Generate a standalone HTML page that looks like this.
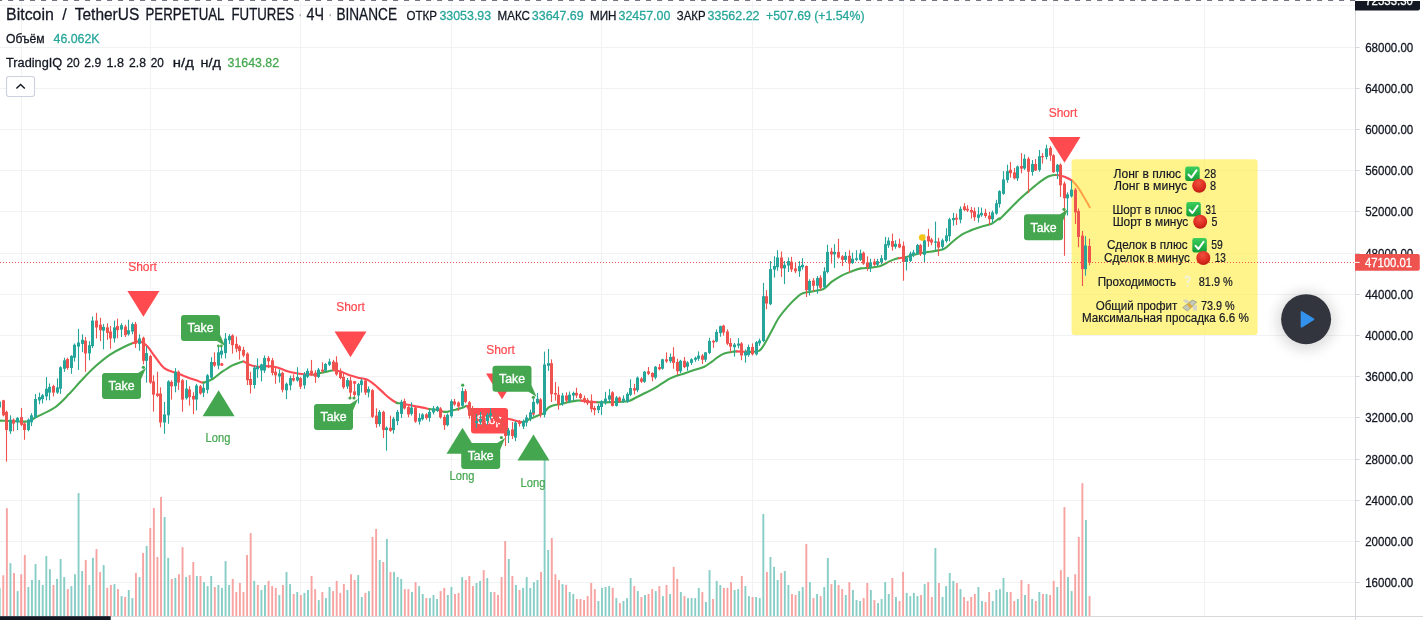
<!DOCTYPE html>
<html lang="ru"><head><meta charset="utf-8"><title>BTCUSDT.P 4h — TradingIQ</title>
<style>
html,body{margin:0;padding:0;background:#fff;}
body{width:1423px;height:620px;overflow:hidden;}
svg{display:block;}
svg text{font-family:"Liberation Sans",sans-serif;}
</style></head><body>
<svg width="1423" height="620" viewBox="0 0 1423 620">
<defs>
<linearGradient id="gc" x1="0" y1="0" x2="0" y2="1"><stop offset="0" stop-color="#3ccf5e"/><stop offset="1" stop-color="#149a35"/></linearGradient>
<radialGradient id="gr" cx="0.45" cy="0.3" r="0.75"><stop offset="0" stop-color="#f0503f"/><stop offset="0.6" stop-color="#dc2c20"/><stop offset="1" stop-color="#b51a10"/></radialGradient>
<filter id="sh" x="-60%" y="-60%" width="220%" height="220%"><feGaussianBlur stdDeviation="7"/></filter>
</defs>
<rect x="0" y="5" width="1355" height="1" fill="#f0f2f3"/>
<rect x="0" y="47" width="1355" height="1" fill="#f0f2f3"/>
<rect x="0" y="88" width="1355" height="1" fill="#f0f2f3"/>
<rect x="0" y="129" width="1355" height="1" fill="#f0f2f3"/>
<rect x="0" y="170" width="1355" height="1" fill="#f0f2f3"/>
<rect x="0" y="211" width="1355" height="1" fill="#f0f2f3"/>
<rect x="0" y="253" width="1355" height="1" fill="#f0f2f3"/>
<rect x="0" y="294" width="1355" height="1" fill="#f0f2f3"/>
<rect x="0" y="335" width="1355" height="1" fill="#f0f2f3"/>
<rect x="0" y="376" width="1355" height="1" fill="#f0f2f3"/>
<rect x="0" y="417" width="1355" height="1" fill="#f0f2f3"/>
<rect x="0" y="459" width="1355" height="1" fill="#f0f2f3"/>
<rect x="0" y="500" width="1355" height="1" fill="#f0f2f3"/>
<rect x="0" y="541" width="1355" height="1" fill="#f0f2f3"/>
<rect x="0" y="582" width="1355" height="1" fill="#f0f2f3"/>
<rect x="21" y="1" width="1" height="615" fill="#f0f2f3"/>
<rect x="150" y="1" width="1" height="615" fill="#f0f2f3"/>
<rect x="300" y="1" width="1" height="615" fill="#f0f2f3"/>
<rect x="451" y="1" width="1" height="615" fill="#f0f2f3"/>
<rect x="601" y="1" width="1" height="615" fill="#f0f2f3"/>
<rect x="752" y="1" width="1" height="615" fill="#f0f2f3"/>
<rect x="903" y="1" width="1" height="615" fill="#f0f2f3"/>
<rect x="1053" y="1" width="1" height="615" fill="#f0f2f3"/>
<rect x="1204" y="1" width="1" height="615" fill="#f0f2f3"/>
<rect x="-1.25" y="587.9" width="1.9" height="28.3" fill="#88cec7"/>
<rect x="2.33" y="575.3" width="1.9" height="40.9" fill="#f6a3a1"/>
<rect x="5.92" y="508.2" width="1.9" height="108.0" fill="#f6a3a1"/>
<rect x="9.50" y="563.1" width="1.9" height="53.1" fill="#88cec7"/>
<rect x="13.09" y="573.0" width="1.9" height="43.2" fill="#f6a3a1"/>
<rect x="16.68" y="591.1" width="1.9" height="25.1" fill="#88cec7"/>
<rect x="20.26" y="574.2" width="1.9" height="42.0" fill="#f6a3a1"/>
<rect x="23.84" y="555.0" width="1.9" height="61.2" fill="#f6a3a1"/>
<rect x="27.43" y="587.0" width="1.9" height="29.2" fill="#88cec7"/>
<rect x="31.02" y="580.0" width="1.9" height="36.2" fill="#88cec7"/>
<rect x="34.60" y="564.0" width="1.9" height="52.2" fill="#88cec7"/>
<rect x="38.19" y="580.0" width="1.9" height="36.2" fill="#88cec7"/>
<rect x="41.77" y="585.0" width="1.9" height="31.2" fill="#88cec7"/>
<rect x="45.35" y="556.1" width="1.9" height="60.1" fill="#88cec7"/>
<rect x="48.94" y="569.2" width="1.9" height="47.0" fill="#88cec7"/>
<rect x="52.52" y="585.0" width="1.9" height="31.2" fill="#f6a3a1"/>
<rect x="56.11" y="578.9" width="1.9" height="37.3" fill="#88cec7"/>
<rect x="59.70" y="559.0" width="1.9" height="57.2" fill="#88cec7"/>
<rect x="63.28" y="577.1" width="1.9" height="39.1" fill="#88cec7"/>
<rect x="66.86" y="589.1" width="1.9" height="27.1" fill="#f6a3a1"/>
<rect x="70.45" y="586.1" width="1.9" height="30.1" fill="#88cec7"/>
<rect x="74.03" y="574.2" width="1.9" height="42.0" fill="#88cec7"/>
<rect x="77.62" y="493.1" width="1.9" height="123.1" fill="#88cec7"/>
<rect x="81.20" y="571.0" width="1.9" height="45.2" fill="#88cec7"/>
<rect x="84.79" y="559.9" width="1.9" height="56.3" fill="#f6a3a1"/>
<rect x="88.38" y="585.0" width="1.9" height="31.2" fill="#88cec7"/>
<rect x="91.96" y="557.9" width="1.9" height="58.3" fill="#88cec7"/>
<rect x="95.55" y="549.1" width="1.9" height="67.1" fill="#f6a3a1"/>
<rect x="99.13" y="572.1" width="1.9" height="44.1" fill="#f6a3a1"/>
<rect x="102.72" y="565.1" width="1.9" height="51.1" fill="#88cec7"/>
<rect x="106.30" y="587.9" width="1.9" height="28.3" fill="#f6a3a1"/>
<rect x="109.89" y="585.0" width="1.9" height="31.2" fill="#f6a3a1"/>
<rect x="113.47" y="584.1" width="1.9" height="32.1" fill="#88cec7"/>
<rect x="117.05" y="589.1" width="1.9" height="27.1" fill="#f6a3a1"/>
<rect x="120.64" y="596.1" width="1.9" height="20.1" fill="#88cec7"/>
<rect x="124.22" y="597.0" width="1.9" height="19.2" fill="#f6a3a1"/>
<rect x="127.81" y="590.0" width="1.9" height="26.2" fill="#88cec7"/>
<rect x="131.40" y="598.1" width="1.9" height="18.1" fill="#88cec7"/>
<rect x="134.98" y="573.0" width="1.9" height="43.2" fill="#f6a3a1"/>
<rect x="138.56" y="577.1" width="1.9" height="39.1" fill="#88cec7"/>
<rect x="142.15" y="552.9" width="1.9" height="63.3" fill="#f6a3a1"/>
<rect x="145.73" y="545.9" width="1.9" height="70.3" fill="#88cec7"/>
<rect x="149.32" y="527.9" width="1.9" height="88.3" fill="#f6a3a1"/>
<rect x="152.91" y="508.0" width="1.9" height="108.2" fill="#f6a3a1"/>
<rect x="156.49" y="557.0" width="1.9" height="59.2" fill="#f6a3a1"/>
<rect x="160.07" y="496.9" width="1.9" height="119.3" fill="#f6a3a1"/>
<rect x="163.66" y="517.0" width="1.9" height="99.2" fill="#88cec7"/>
<rect x="167.25" y="557.9" width="1.9" height="58.3" fill="#88cec7"/>
<rect x="170.83" y="578.9" width="1.9" height="37.3" fill="#f6a3a1"/>
<rect x="174.41" y="578.0" width="1.9" height="38.2" fill="#88cec7"/>
<rect x="178.00" y="574.2" width="1.9" height="42.0" fill="#f6a3a1"/>
<rect x="181.59" y="547.1" width="1.9" height="69.1" fill="#f6a3a1"/>
<rect x="185.17" y="577.1" width="1.9" height="39.1" fill="#88cec7"/>
<rect x="188.75" y="575.1" width="1.9" height="41.1" fill="#f6a3a1"/>
<rect x="192.34" y="562.0" width="1.9" height="54.2" fill="#f6a3a1"/>
<rect x="195.93" y="576.0" width="1.9" height="40.2" fill="#88cec7"/>
<rect x="199.51" y="576.0" width="1.9" height="40.2" fill="#f6a3a1"/>
<rect x="203.09" y="582.1" width="1.9" height="34.1" fill="#88cec7"/>
<rect x="206.68" y="586.1" width="1.9" height="30.1" fill="#88cec7"/>
<rect x="210.26" y="576.0" width="1.9" height="40.2" fill="#88cec7"/>
<rect x="213.85" y="587.0" width="1.9" height="29.2" fill="#f6a3a1"/>
<rect x="217.44" y="585.0" width="1.9" height="31.2" fill="#88cec7"/>
<rect x="221.02" y="587.9" width="1.9" height="28.3" fill="#88cec7"/>
<rect x="224.60" y="561.1" width="1.9" height="55.1" fill="#88cec7"/>
<rect x="228.19" y="585.0" width="1.9" height="31.2" fill="#88cec7"/>
<rect x="231.78" y="578.9" width="1.9" height="37.3" fill="#f6a3a1"/>
<rect x="235.36" y="592.0" width="1.9" height="24.2" fill="#f6a3a1"/>
<rect x="238.94" y="583.0" width="1.9" height="33.2" fill="#f6a3a1"/>
<rect x="242.53" y="592.0" width="1.9" height="24.2" fill="#f6a3a1"/>
<rect x="246.12" y="555.0" width="1.9" height="61.2" fill="#f6a3a1"/>
<rect x="249.70" y="533.1" width="1.9" height="83.1" fill="#f6a3a1"/>
<rect x="253.28" y="580.9" width="1.9" height="35.3" fill="#88cec7"/>
<rect x="256.87" y="585.0" width="1.9" height="31.2" fill="#f6a3a1"/>
<rect x="260.45" y="590.0" width="1.9" height="26.2" fill="#88cec7"/>
<rect x="264.04" y="585.0" width="1.9" height="31.2" fill="#88cec7"/>
<rect x="267.62" y="580.9" width="1.9" height="35.3" fill="#f6a3a1"/>
<rect x="271.21" y="586.1" width="1.9" height="30.1" fill="#f6a3a1"/>
<rect x="274.80" y="587.9" width="1.9" height="28.3" fill="#f6a3a1"/>
<rect x="278.38" y="595.0" width="1.9" height="21.2" fill="#88cec7"/>
<rect x="281.96" y="585.0" width="1.9" height="31.2" fill="#f6a3a1"/>
<rect x="285.55" y="571.9" width="1.9" height="44.3" fill="#88cec7"/>
<rect x="289.13" y="584.1" width="1.9" height="32.1" fill="#88cec7"/>
<rect x="292.72" y="594.0" width="1.9" height="22.2" fill="#f6a3a1"/>
<rect x="296.31" y="592.0" width="1.9" height="24.2" fill="#88cec7"/>
<rect x="299.89" y="595.0" width="1.9" height="21.2" fill="#f6a3a1"/>
<rect x="303.48" y="592.9" width="1.9" height="23.3" fill="#88cec7"/>
<rect x="307.06" y="590.0" width="1.9" height="26.2" fill="#88cec7"/>
<rect x="310.64" y="576.0" width="1.9" height="40.2" fill="#f6a3a1"/>
<rect x="314.23" y="589.1" width="1.9" height="27.1" fill="#f6a3a1"/>
<rect x="317.81" y="600.1" width="1.9" height="16.1" fill="#88cec7"/>
<rect x="321.40" y="592.0" width="1.9" height="24.2" fill="#f6a3a1"/>
<rect x="324.99" y="598.1" width="1.9" height="18.1" fill="#88cec7"/>
<rect x="328.57" y="587.0" width="1.9" height="29.2" fill="#88cec7"/>
<rect x="332.15" y="591.1" width="1.9" height="25.1" fill="#f6a3a1"/>
<rect x="335.74" y="580.9" width="1.9" height="35.3" fill="#f6a3a1"/>
<rect x="339.32" y="592.9" width="1.9" height="23.3" fill="#f6a3a1"/>
<rect x="342.91" y="584.1" width="1.9" height="32.1" fill="#f6a3a1"/>
<rect x="346.50" y="590.0" width="1.9" height="26.2" fill="#88cec7"/>
<rect x="350.08" y="574.2" width="1.9" height="42.0" fill="#f6a3a1"/>
<rect x="353.67" y="580.0" width="1.9" height="36.2" fill="#f6a3a1"/>
<rect x="357.25" y="575.1" width="1.9" height="41.1" fill="#88cec7"/>
<rect x="360.83" y="597.0" width="1.9" height="19.2" fill="#88cec7"/>
<rect x="364.42" y="592.9" width="1.9" height="23.3" fill="#f6a3a1"/>
<rect x="368.00" y="591.1" width="1.9" height="25.1" fill="#88cec7"/>
<rect x="371.59" y="536.9" width="1.9" height="79.3" fill="#f6a3a1"/>
<rect x="375.18" y="529.0" width="1.9" height="87.2" fill="#f6a3a1"/>
<rect x="378.76" y="559.9" width="1.9" height="56.3" fill="#88cec7"/>
<rect x="382.34" y="562.0" width="1.9" height="54.2" fill="#f6a3a1"/>
<rect x="385.93" y="538.9" width="1.9" height="77.3" fill="#88cec7"/>
<rect x="389.51" y="571.9" width="1.9" height="44.3" fill="#f6a3a1"/>
<rect x="393.10" y="571.9" width="1.9" height="44.3" fill="#88cec7"/>
<rect x="396.69" y="577.1" width="1.9" height="39.1" fill="#88cec7"/>
<rect x="400.27" y="578.9" width="1.9" height="37.3" fill="#88cec7"/>
<rect x="403.86" y="589.1" width="1.9" height="27.1" fill="#f6a3a1"/>
<rect x="407.44" y="589.1" width="1.9" height="27.1" fill="#f6a3a1"/>
<rect x="411.02" y="592.0" width="1.9" height="24.2" fill="#88cec7"/>
<rect x="414.61" y="582.1" width="1.9" height="34.1" fill="#f6a3a1"/>
<rect x="418.19" y="586.1" width="1.9" height="30.1" fill="#88cec7"/>
<rect x="421.78" y="594.0" width="1.9" height="22.2" fill="#88cec7"/>
<rect x="425.37" y="598.1" width="1.9" height="18.1" fill="#f6a3a1"/>
<rect x="428.95" y="598.1" width="1.9" height="18.1" fill="#88cec7"/>
<rect x="432.53" y="595.0" width="1.9" height="21.2" fill="#88cec7"/>
<rect x="436.12" y="599.0" width="1.9" height="17.2" fill="#88cec7"/>
<rect x="439.70" y="591.1" width="1.9" height="25.1" fill="#f6a3a1"/>
<rect x="443.29" y="587.9" width="1.9" height="28.3" fill="#f6a3a1"/>
<rect x="446.88" y="595.0" width="1.9" height="21.2" fill="#88cec7"/>
<rect x="450.46" y="587.0" width="1.9" height="29.2" fill="#88cec7"/>
<rect x="454.05" y="594.0" width="1.9" height="22.2" fill="#f6a3a1"/>
<rect x="457.63" y="592.9" width="1.9" height="23.3" fill="#f6a3a1"/>
<rect x="461.21" y="577.1" width="1.9" height="39.1" fill="#88cec7"/>
<rect x="464.80" y="580.0" width="1.9" height="36.2" fill="#f6a3a1"/>
<rect x="468.38" y="576.0" width="1.9" height="40.2" fill="#f6a3a1"/>
<rect x="471.97" y="586.1" width="1.9" height="30.1" fill="#f6a3a1"/>
<rect x="475.56" y="583.0" width="1.9" height="33.2" fill="#88cec7"/>
<rect x="479.14" y="580.9" width="1.9" height="35.3" fill="#88cec7"/>
<rect x="482.73" y="570.1" width="1.9" height="46.1" fill="#f6a3a1"/>
<rect x="486.31" y="578.0" width="1.9" height="38.2" fill="#88cec7"/>
<rect x="489.89" y="592.0" width="1.9" height="24.2" fill="#88cec7"/>
<rect x="493.48" y="592.0" width="1.9" height="24.2" fill="#f6a3a1"/>
<rect x="497.06" y="595.0" width="1.9" height="21.2" fill="#f6a3a1"/>
<rect x="500.65" y="577.1" width="1.9" height="39.1" fill="#f6a3a1"/>
<rect x="504.24" y="541.0" width="1.9" height="75.2" fill="#f6a3a1"/>
<rect x="507.82" y="559.0" width="1.9" height="57.2" fill="#88cec7"/>
<rect x="511.40" y="576.0" width="1.9" height="40.2" fill="#f6a3a1"/>
<rect x="514.99" y="585.0" width="1.9" height="31.2" fill="#88cec7"/>
<rect x="518.58" y="590.0" width="1.9" height="26.2" fill="#f6a3a1"/>
<rect x="522.16" y="587.9" width="1.9" height="28.3" fill="#88cec7"/>
<rect x="525.75" y="577.1" width="1.9" height="39.1" fill="#88cec7"/>
<rect x="529.33" y="587.9" width="1.9" height="28.3" fill="#88cec7"/>
<rect x="532.91" y="582.1" width="1.9" height="34.1" fill="#88cec7"/>
<rect x="536.50" y="580.0" width="1.9" height="36.2" fill="#88cec7"/>
<rect x="540.09" y="571.9" width="1.9" height="44.3" fill="#f6a3a1"/>
<rect x="543.67" y="457.4" width="1.9" height="158.8" fill="#88cec7"/>
<rect x="547.25" y="550.0" width="1.9" height="66.2" fill="#88cec7"/>
<rect x="550.84" y="538.0" width="1.9" height="78.2" fill="#f6a3a1"/>
<rect x="554.42" y="574.2" width="1.9" height="42.0" fill="#f6a3a1"/>
<rect x="558.01" y="580.0" width="1.9" height="36.2" fill="#f6a3a1"/>
<rect x="561.60" y="584.1" width="1.9" height="32.1" fill="#88cec7"/>
<rect x="565.18" y="585.0" width="1.9" height="31.2" fill="#f6a3a1"/>
<rect x="568.76" y="592.0" width="1.9" height="24.2" fill="#88cec7"/>
<rect x="572.35" y="594.0" width="1.9" height="22.2" fill="#88cec7"/>
<rect x="575.93" y="599.0" width="1.9" height="17.2" fill="#f6a3a1"/>
<rect x="579.52" y="599.0" width="1.9" height="17.2" fill="#f6a3a1"/>
<rect x="583.11" y="600.1" width="1.9" height="16.1" fill="#f6a3a1"/>
<rect x="586.69" y="596.1" width="1.9" height="20.1" fill="#f6a3a1"/>
<rect x="590.27" y="583.0" width="1.9" height="33.2" fill="#f6a3a1"/>
<rect x="593.86" y="589.1" width="1.9" height="27.1" fill="#f6a3a1"/>
<rect x="597.45" y="601.0" width="1.9" height="15.2" fill="#88cec7"/>
<rect x="601.03" y="587.9" width="1.9" height="28.3" fill="#88cec7"/>
<rect x="604.62" y="587.0" width="1.9" height="29.2" fill="#88cec7"/>
<rect x="608.20" y="586.1" width="1.9" height="30.1" fill="#88cec7"/>
<rect x="611.78" y="587.9" width="1.9" height="28.3" fill="#f6a3a1"/>
<rect x="615.37" y="598.1" width="1.9" height="18.1" fill="#88cec7"/>
<rect x="618.96" y="603.1" width="1.9" height="13.1" fill="#f6a3a1"/>
<rect x="622.54" y="601.0" width="1.9" height="15.2" fill="#88cec7"/>
<rect x="626.12" y="598.1" width="1.9" height="18.1" fill="#88cec7"/>
<rect x="629.71" y="578.0" width="1.9" height="38.2" fill="#88cec7"/>
<rect x="633.29" y="586.1" width="1.9" height="30.1" fill="#f6a3a1"/>
<rect x="636.88" y="591.1" width="1.9" height="25.1" fill="#88cec7"/>
<rect x="640.47" y="597.0" width="1.9" height="19.2" fill="#f6a3a1"/>
<rect x="644.05" y="595.0" width="1.9" height="21.2" fill="#88cec7"/>
<rect x="647.63" y="594.0" width="1.9" height="22.2" fill="#f6a3a1"/>
<rect x="651.22" y="589.1" width="1.9" height="27.1" fill="#f6a3a1"/>
<rect x="654.80" y="591.1" width="1.9" height="25.1" fill="#88cec7"/>
<rect x="658.39" y="586.1" width="1.9" height="30.1" fill="#f6a3a1"/>
<rect x="661.98" y="596.1" width="1.9" height="20.1" fill="#88cec7"/>
<rect x="665.56" y="585.0" width="1.9" height="31.2" fill="#f6a3a1"/>
<rect x="669.14" y="594.0" width="1.9" height="22.2" fill="#88cec7"/>
<rect x="672.73" y="566.9" width="1.9" height="49.3" fill="#f6a3a1"/>
<rect x="676.31" y="578.9" width="1.9" height="37.3" fill="#f6a3a1"/>
<rect x="679.90" y="592.0" width="1.9" height="24.2" fill="#88cec7"/>
<rect x="683.49" y="596.1" width="1.9" height="20.1" fill="#f6a3a1"/>
<rect x="687.07" y="598.1" width="1.9" height="18.1" fill="#88cec7"/>
<rect x="690.65" y="598.1" width="1.9" height="18.1" fill="#88cec7"/>
<rect x="694.24" y="598.1" width="1.9" height="18.1" fill="#88cec7"/>
<rect x="697.83" y="587.9" width="1.9" height="28.3" fill="#88cec7"/>
<rect x="701.41" y="592.0" width="1.9" height="24.2" fill="#f6a3a1"/>
<rect x="705.00" y="602.0" width="1.9" height="14.2" fill="#88cec7"/>
<rect x="708.58" y="570.1" width="1.9" height="46.1" fill="#88cec7"/>
<rect x="712.16" y="599.0" width="1.9" height="17.2" fill="#f6a3a1"/>
<rect x="715.75" y="580.9" width="1.9" height="35.3" fill="#88cec7"/>
<rect x="719.34" y="585.0" width="1.9" height="31.2" fill="#88cec7"/>
<rect x="722.92" y="587.9" width="1.9" height="28.3" fill="#f6a3a1"/>
<rect x="726.50" y="587.9" width="1.9" height="28.3" fill="#f6a3a1"/>
<rect x="730.09" y="582.1" width="1.9" height="34.1" fill="#f6a3a1"/>
<rect x="733.67" y="590.0" width="1.9" height="26.2" fill="#88cec7"/>
<rect x="737.26" y="589.1" width="1.9" height="27.1" fill="#88cec7"/>
<rect x="740.85" y="576.0" width="1.9" height="40.2" fill="#f6a3a1"/>
<rect x="744.43" y="586.1" width="1.9" height="30.1" fill="#88cec7"/>
<rect x="748.01" y="596.1" width="1.9" height="20.1" fill="#88cec7"/>
<rect x="751.60" y="597.0" width="1.9" height="19.2" fill="#f6a3a1"/>
<rect x="755.18" y="597.0" width="1.9" height="19.2" fill="#88cec7"/>
<rect x="758.77" y="598.1" width="1.9" height="18.1" fill="#88cec7"/>
<rect x="762.36" y="513.9" width="1.9" height="102.3" fill="#88cec7"/>
<rect x="765.94" y="571.9" width="1.9" height="44.3" fill="#f6a3a1"/>
<rect x="769.52" y="557.0" width="1.9" height="59.2" fill="#88cec7"/>
<rect x="773.11" y="566.9" width="1.9" height="49.3" fill="#88cec7"/>
<rect x="776.69" y="580.0" width="1.9" height="36.2" fill="#88cec7"/>
<rect x="780.28" y="573.0" width="1.9" height="43.2" fill="#f6a3a1"/>
<rect x="783.87" y="571.0" width="1.9" height="45.2" fill="#88cec7"/>
<rect x="787.45" y="585.0" width="1.9" height="31.2" fill="#88cec7"/>
<rect x="791.03" y="594.0" width="1.9" height="22.2" fill="#f6a3a1"/>
<rect x="794.62" y="595.0" width="1.9" height="21.2" fill="#f6a3a1"/>
<rect x="798.21" y="591.1" width="1.9" height="25.1" fill="#88cec7"/>
<rect x="801.79" y="587.0" width="1.9" height="29.2" fill="#88cec7"/>
<rect x="805.38" y="543.9" width="1.9" height="72.3" fill="#f6a3a1"/>
<rect x="808.96" y="582.1" width="1.9" height="34.1" fill="#88cec7"/>
<rect x="812.54" y="598.1" width="1.9" height="18.1" fill="#f6a3a1"/>
<rect x="816.13" y="594.0" width="1.9" height="22.2" fill="#88cec7"/>
<rect x="819.72" y="596.1" width="1.9" height="20.1" fill="#f6a3a1"/>
<rect x="823.30" y="587.0" width="1.9" height="29.2" fill="#88cec7"/>
<rect x="826.88" y="557.9" width="1.9" height="58.3" fill="#88cec7"/>
<rect x="830.47" y="584.1" width="1.9" height="32.1" fill="#f6a3a1"/>
<rect x="834.05" y="580.0" width="1.9" height="36.2" fill="#88cec7"/>
<rect x="837.64" y="585.0" width="1.9" height="31.2" fill="#f6a3a1"/>
<rect x="841.23" y="589.1" width="1.9" height="27.1" fill="#f6a3a1"/>
<rect x="844.81" y="595.0" width="1.9" height="21.2" fill="#88cec7"/>
<rect x="848.39" y="582.1" width="1.9" height="34.1" fill="#f6a3a1"/>
<rect x="851.98" y="590.0" width="1.9" height="26.2" fill="#88cec7"/>
<rect x="855.56" y="600.1" width="1.9" height="16.1" fill="#88cec7"/>
<rect x="859.15" y="601.0" width="1.9" height="15.2" fill="#88cec7"/>
<rect x="862.74" y="598.1" width="1.9" height="18.1" fill="#f6a3a1"/>
<rect x="866.32" y="583.0" width="1.9" height="33.2" fill="#f6a3a1"/>
<rect x="869.90" y="590.0" width="1.9" height="26.2" fill="#88cec7"/>
<rect x="873.49" y="600.1" width="1.9" height="16.1" fill="#f6a3a1"/>
<rect x="877.08" y="603.1" width="1.9" height="13.1" fill="#88cec7"/>
<rect x="880.66" y="599.0" width="1.9" height="17.2" fill="#88cec7"/>
<rect x="884.25" y="582.1" width="1.9" height="34.1" fill="#88cec7"/>
<rect x="887.83" y="594.0" width="1.9" height="22.2" fill="#88cec7"/>
<rect x="891.41" y="578.0" width="1.9" height="38.2" fill="#f6a3a1"/>
<rect x="895.00" y="597.0" width="1.9" height="19.2" fill="#88cec7"/>
<rect x="898.59" y="601.0" width="1.9" height="15.2" fill="#f6a3a1"/>
<rect x="902.17" y="571.9" width="1.9" height="44.3" fill="#f6a3a1"/>
<rect x="905.75" y="592.9" width="1.9" height="23.3" fill="#88cec7"/>
<rect x="909.34" y="596.1" width="1.9" height="20.1" fill="#88cec7"/>
<rect x="912.92" y="592.9" width="1.9" height="23.3" fill="#88cec7"/>
<rect x="916.51" y="596.1" width="1.9" height="20.1" fill="#88cec7"/>
<rect x="920.10" y="595.0" width="1.9" height="21.2" fill="#f6a3a1"/>
<rect x="923.68" y="584.1" width="1.9" height="32.1" fill="#88cec7"/>
<rect x="927.26" y="582.1" width="1.9" height="34.1" fill="#f6a3a1"/>
<rect x="930.85" y="597.0" width="1.9" height="19.2" fill="#f6a3a1"/>
<rect x="934.43" y="548.0" width="1.9" height="68.2" fill="#88cec7"/>
<rect x="938.02" y="583.0" width="1.9" height="33.2" fill="#f6a3a1"/>
<rect x="941.61" y="597.0" width="1.9" height="19.2" fill="#88cec7"/>
<rect x="945.19" y="586.1" width="1.9" height="30.1" fill="#88cec7"/>
<rect x="948.77" y="573.0" width="1.9" height="43.2" fill="#88cec7"/>
<rect x="952.36" y="580.9" width="1.9" height="35.3" fill="#88cec7"/>
<rect x="955.94" y="583.0" width="1.9" height="33.2" fill="#f6a3a1"/>
<rect x="959.53" y="589.1" width="1.9" height="27.1" fill="#88cec7"/>
<rect x="963.12" y="597.0" width="1.9" height="19.2" fill="#f6a3a1"/>
<rect x="966.70" y="601.0" width="1.9" height="15.2" fill="#f6a3a1"/>
<rect x="970.28" y="597.0" width="1.9" height="19.2" fill="#f6a3a1"/>
<rect x="973.87" y="594.0" width="1.9" height="22.2" fill="#f6a3a1"/>
<rect x="977.46" y="587.0" width="1.9" height="29.2" fill="#88cec7"/>
<rect x="981.04" y="601.0" width="1.9" height="15.2" fill="#88cec7"/>
<rect x="984.62" y="602.0" width="1.9" height="14.2" fill="#f6a3a1"/>
<rect x="988.21" y="592.0" width="1.9" height="24.2" fill="#f6a3a1"/>
<rect x="991.79" y="601.0" width="1.9" height="15.2" fill="#88cec7"/>
<rect x="995.38" y="590.0" width="1.9" height="26.2" fill="#88cec7"/>
<rect x="998.97" y="589.1" width="1.9" height="27.1" fill="#88cec7"/>
<rect x="1002.55" y="578.0" width="1.9" height="38.2" fill="#88cec7"/>
<rect x="1006.13" y="592.0" width="1.9" height="24.2" fill="#88cec7"/>
<rect x="1009.72" y="592.0" width="1.9" height="24.2" fill="#f6a3a1"/>
<rect x="1013.30" y="601.0" width="1.9" height="15.2" fill="#f6a3a1"/>
<rect x="1016.89" y="599.0" width="1.9" height="17.2" fill="#88cec7"/>
<rect x="1020.48" y="580.0" width="1.9" height="36.2" fill="#f6a3a1"/>
<rect x="1024.06" y="595.0" width="1.9" height="21.2" fill="#88cec7"/>
<rect x="1027.64" y="584.1" width="1.9" height="32.1" fill="#f6a3a1"/>
<rect x="1031.23" y="599.0" width="1.9" height="17.2" fill="#88cec7"/>
<rect x="1034.82" y="601.0" width="1.9" height="15.2" fill="#f6a3a1"/>
<rect x="1038.40" y="592.0" width="1.9" height="24.2" fill="#88cec7"/>
<rect x="1041.98" y="594.0" width="1.9" height="22.2" fill="#f6a3a1"/>
<rect x="1045.57" y="594.0" width="1.9" height="22.2" fill="#88cec7"/>
<rect x="1049.15" y="595.0" width="1.9" height="21.2" fill="#f6a3a1"/>
<rect x="1052.74" y="580.9" width="1.9" height="35.3" fill="#f6a3a1"/>
<rect x="1056.33" y="587.0" width="1.9" height="29.2" fill="#88cec7"/>
<rect x="1059.91" y="570.1" width="1.9" height="46.1" fill="#f6a3a1"/>
<rect x="1063.49" y="507.1" width="1.9" height="109.1" fill="#f6a3a1"/>
<rect x="1067.08" y="577.1" width="1.9" height="39.1" fill="#88cec7"/>
<rect x="1070.66" y="591.1" width="1.9" height="25.1" fill="#88cec7"/>
<rect x="1074.25" y="574.2" width="1.9" height="42.0" fill="#f6a3a1"/>
<rect x="1077.84" y="536.9" width="1.9" height="79.3" fill="#f6a3a1"/>
<rect x="1081.42" y="483.2" width="1.9" height="133.0" fill="#f6a3a1"/>
<rect x="1085.00" y="520.0" width="1.9" height="96.2" fill="#88cec7"/>
<rect x="1088.59" y="596.1" width="1.9" height="20.1" fill="#f6a3a1"/>
<rect x="1071.6" y="159.2" width="186" height="175.7" rx="3" fill="#ffec46" fill-opacity="0.62"/>
<path d="M0.0 420.6C4.4 420.8 21.7 422.0 27.4 421.5C33.1 420.9 31.3 419.6 35.6 417.4C40.0 415.1 49.6 411.1 54.8 407.5C60.1 403.8 64.2 399.1 68.5 394.6C72.9 390.1 77.9 384.1 82.3 379.5C86.6 374.9 91.6 369.8 96.0 365.8C100.4 361.9 105.3 357.8 109.7 354.8C114.1 351.9 119.7 349.0 123.4 347.2C127.1 345.3 130.3 344.0 133.0 343.0" fill="none" stroke="#46a84f" stroke-width="2.1" stroke-linejoin="round" stroke-linecap="round"/>
<path d="M133.0 343.0C135.6 342.1 137.7 340.9 140.0 341.5C142.3 342.0 144.9 344.0 147.3 346.3C149.6 348.6 151.8 352.5 154.5 356.0C157.2 359.5 160.7 365.4 164.2 368.1C167.7 370.8 172.4 371.4 176.3 372.9C180.2 374.5 184.9 376.5 188.4 377.7C191.9 379.0 195.7 380.1 198.1 380.9C200.5 381.7 201.1 382.9 203.4 382.6" fill="none" stroke="#fe4a53" stroke-width="2.1" stroke-linejoin="round" stroke-linecap="round"/>
<path d="M203.4 382.6C205.7 382.3 209.6 380.7 212.6 379.0C215.6 377.2 219.2 373.8 222.3 371.7C225.4 369.6 229.2 367.1 231.9 365.6C234.7 364.2 237.3 363.4 239.2 362.7C241.1 362.1 242.0 361.3 243.6 361.5" fill="none" stroke="#46a84f" stroke-width="2.1" stroke-linejoin="round" stroke-linecap="round"/>
<path d="M243.6 361.5C245.1 361.8 246.5 363.6 248.9 364.4C251.3 365.3 255.8 366.6 258.6 366.9C261.3 367.1 263.1 366.1 265.8 366.1C268.5 366.1 272.4 366.2 275.5 366.9C278.6 367.6 282.9 369.7 285.2 370.5C287.5 371.3 287.7 371.5 290.0 372.0C292.3 372.5 296.6 373.3 299.7 373.7C302.8 374.1 307.0 374.3 309.4 374.4C311.7 374.6 312.3 375.0 314.2 374.7" fill="none" stroke="#fe4a53" stroke-width="2.1" stroke-linejoin="round" stroke-linecap="round"/>
<path d="M314.2 374.7C316.1 374.4 319.1 373.3 321.5 372.7C323.8 372.2 326.8 371.7 328.7 371.3C330.6 370.9 331.6 370.3 333.6 370.3" fill="none" stroke="#46a84f" stroke-width="2.1" stroke-linejoin="round" stroke-linecap="round"/>
<path d="M333.6 370.3C335.5 370.4 338.1 370.7 340.8 371.5C343.5 372.4 347.4 374.6 350.5 375.6C353.6 376.7 357.5 377.4 360.2 378.1C362.9 378.7 365.1 378.7 367.4 379.8C369.7 380.8 372.4 383.0 374.7 384.8C377.0 386.7 379.6 389.3 381.9 391.4C384.3 393.5 386.9 396.1 389.2 397.9C391.5 399.7 394.5 401.9 396.5 402.7" fill="none" stroke="#fe4a53" stroke-width="2.1" stroke-linejoin="round" stroke-linecap="round"/>
<path d="M396.5 402.7C398.4 403.6 398.6 403.0 401.3 403.5" fill="none" stroke="#46a84f" stroke-width="2.1" stroke-linejoin="round" stroke-linecap="round"/>
<path d="M401.3 403.5C404.0 404.0 409.9 405.2 413.4 405.9C416.9 406.6 420.6 407.1 423.1 407.6C425.6 408.1 426.8 408.7 429.1 409.0" fill="none" stroke="#fe4a53" stroke-width="2.1" stroke-linejoin="round" stroke-linecap="round"/>
<path d="M429.1 409.0C431.4 409.4 435.3 409.6 437.6 410.0" fill="none" stroke="#46a84f" stroke-width="2.1" stroke-linejoin="round" stroke-linecap="round"/>
<path d="M437.6 410.0C439.9 410.4 442.0 411.4 443.6 411.7" fill="none" stroke="#fe4a53" stroke-width="2.1" stroke-linejoin="round" stroke-linecap="round"/>
<path d="M443.6 411.7C445.3 412.0 445.8 412.1 447.7 411.7C449.6 411.4 453.0 410.3 455.5 409.7C458.0 409.0 461.4 408.2 463.2 407.6C465.1 407.0 465.9 405.1 467.1 406.1" fill="none" stroke="#46a84f" stroke-width="2.1" stroke-linejoin="round" stroke-linecap="round"/>
<path d="M467.1 406.1C468.3 407.0 469.1 411.8 471.0 413.5C472.8 415.3 475.4 416.2 478.7 416.9C482.0 417.6 487.0 417.6 491.6 417.9C496.2 418.2 503.9 418.3 507.6 418.7C511.3 419.1 512.4 420.0 514.8 420.5C517.2 421.1 520.1 422.4 522.6 422.1" fill="none" stroke="#fe4a53" stroke-width="2.1" stroke-linejoin="round" stroke-linecap="round"/>
<path d="M522.6 422.1C525.1 421.8 527.8 419.8 530.3 418.7C532.8 417.6 536.0 416.2 538.1 415.4C540.1 414.5 541.6 414.8 543.2 413.5C544.9 412.3 546.7 408.9 548.4 407.6C550.0 406.3 551.5 405.9 553.5 405.3C555.6 404.7 558.8 404.5 561.3 404.0C563.8 403.5 566.6 402.5 569.0 401.9C571.5 401.4 574.8 400.9 576.8 400.6C578.8 400.4 579.4 400.4 581.4 400.6" fill="none" stroke="#46a84f" stroke-width="2.1" stroke-linejoin="round" stroke-linecap="round"/>
<path d="M581.4 400.6C583.5 400.9 588.3 401.8 589.7 401.9C591.1 402.1 588.8 401.6 590.0 401.7C591.2 401.8 594.0 402.3 597.3 402.3" fill="none" stroke="#fe4a53" stroke-width="2.1" stroke-linejoin="round" stroke-linecap="round"/>
<path d="M597.3 402.3C600.7 402.4 606.1 402.3 611.0 402.1C615.8 402.0 623.7 402.0 627.7 401.3C631.8 400.5 633.4 398.8 636.1 397.5C638.8 396.2 641.8 394.7 644.5 393.3C647.2 392.0 650.2 390.6 652.9 389.1C655.6 387.6 658.6 385.6 661.3 383.9C664.0 382.2 667.3 379.9 669.7 378.6C672.0 377.4 673.6 376.7 676.0 375.9C678.3 375.1 681.3 374.4 684.4 373.4C687.4 372.4 691.7 370.9 694.8 369.8C698.0 368.8 701.6 368.0 704.3 366.7C707.0 365.4 709.4 363.4 711.6 361.9C713.8 360.3 715.9 358.4 717.9 357.0C719.9 355.7 721.9 354.3 724.2 353.5C726.5 352.6 730.6 352.1 732.6 351.8C734.6 351.5 734.8 351.4 736.8 351.4" fill="none" stroke="#46a84f" stroke-width="2.1" stroke-linejoin="round" stroke-linecap="round"/>
<path d="M736.8 351.4C738.8 351.4 743.5 351.8 745.2 351.8C746.8 351.8 746.2 351.6 747.3 351.6" fill="none" stroke="#fe4a53" stroke-width="2.1" stroke-linejoin="round" stroke-linecap="round"/>
<path d="M747.3 351.6C748.4 351.6 750.2 352.0 752.1 351.9C754.0 351.7 757.4 351.8 759.4 350.7C761.3 349.5 762.3 347.7 764.2 344.6C766.1 341.5 769.1 335.6 771.5 331.3C773.8 327.0 776.0 322.1 778.7 318.0C781.4 313.9 785.3 309.4 788.4 305.9C791.5 302.4 795.7 298.3 798.1 296.2C800.5 294.2 801.1 293.8 803.4 293.1C805.7 292.3 809.4 292.0 812.6 291.4C815.8 290.7 820.4 290.5 823.5 289.0C826.6 287.4 829.0 283.8 831.9 281.7C834.8 279.6 838.5 277.3 841.6 275.6C844.7 274.0 848.2 272.7 851.3 271.5C854.4 270.4 857.9 269.0 861.0 268.4C864.1 267.8 867.6 268.1 870.7 267.7C873.8 267.3 877.2 267.0 880.3 266.0C883.4 264.9 887.3 262.3 890.0 261.1C892.7 259.9 895.8 258.9 897.3 258.4C898.7 257.9 897.8 258.3 899.0 258.2" fill="none" stroke="#46a84f" stroke-width="2.1" stroke-linejoin="round" stroke-linecap="round"/>
<path d="M899.0 258.2C900.1 258.0 902.1 258.0 904.5 257.4" fill="none" stroke="#fe4a53" stroke-width="2.1" stroke-linejoin="round" stroke-linecap="round"/>
<path d="M904.5 257.4C907.0 256.9 910.7 255.6 914.2 254.8C917.7 254.0 922.4 253.0 926.3 252.3C930.2 251.7 935.5 251.0 938.4 250.4C941.3 249.8 942.1 250.2 944.4 248.7C946.8 247.3 950.0 243.8 952.9 241.5C955.8 239.1 959.5 236.1 962.6 234.2C965.7 232.3 969.2 231.1 972.3 229.8C975.4 228.6 978.8 227.4 981.9 226.5C985.0 225.5 988.9 225.1 991.6 223.8C994.3 222.5 997.5 219.3 998.9 218.5C1000.2 217.7 998.2 220.5 1000.0 218.9C1001.8 217.3 1007.0 211.9 1010.3 208.5C1013.6 205.2 1017.3 201.3 1020.6 198.2C1023.9 195.1 1027.7 192.0 1031.0 189.2C1034.3 186.4 1038.4 183.0 1041.3 180.9C1044.2 178.9 1046.6 177.2 1049.0 176.3C1051.5 175.3 1054.3 174.9 1056.8 175.0" fill="none" stroke="#46a84f" stroke-width="2.1" stroke-linejoin="round" stroke-linecap="round"/>
<path d="M1056.8 175.0C1059.3 175.1 1062.0 175.9 1064.5 176.8C1067.0 177.8 1070.2 179.4 1072.3 180.9" fill="none" stroke="#fe4a53" stroke-width="2.1" stroke-linejoin="round" stroke-linecap="round"/>
<path d="M1072.3 180.9C1074.3 182.5 1075.6 184.1 1077.4 186.6C1079.3 189.2 1081.9 193.6 1083.9 196.9C1085.9 200.2 1088.9 205.6 1089.8 207.3" fill="none" stroke="#ff9f45" stroke-width="1.9" stroke-linejoin="round" stroke-linecap="round"/>
<rect x="471.0" y="408.0" width="37.0" height="25.5" rx="3" fill="#ff4a50"/>
<text x="489.5" y="424.2" fill="#fff" font-size="12.5" text-anchor="middle" stroke="#fff" stroke-width="0.35">Stop</text>
<line x1="0" x2="1355" y1="262.5" y2="262.5" stroke="#ef5350" stroke-width="1.2" stroke-dasharray="1 2"/>
<rect x="-1.05" y="400.3" width="1.1" height="8.3" fill="#26a69a"/><rect x="-2" y="401.6" width="3" height="5.9" fill="#26a69a"/>
<rect x="2.95" y="399.8" width="1.1" height="16.5" fill="#ef5350"/><rect x="2" y="400.3" width="3" height="15.0" fill="#ef5350"/>
<rect x="5.95" y="410.6" width="1.1" height="51.1" fill="#ef5350"/><rect x="5" y="411.9" width="3" height="18.1" fill="#ef5350"/>
<rect x="9.95" y="415.3" width="1.1" height="18.6" fill="#26a69a"/><rect x="9" y="419.7" width="3" height="11.6" fill="#26a69a"/>
<rect x="12.95" y="418.4" width="1.1" height="12.9" fill="#ef5350"/><rect x="12" y="419.7" width="3" height="3.9" fill="#ef5350"/>
<rect x="16.95" y="417.1" width="1.1" height="12.9" fill="#26a69a"/><rect x="16" y="417.9" width="3" height="4.4" fill="#26a69a"/>
<rect x="20.95" y="408.1" width="1.1" height="18.1" fill="#ef5350"/><rect x="20" y="417.1" width="3" height="7.7" fill="#ef5350"/>
<rect x="23.95" y="422.3" width="1.1" height="17.5" fill="#ef5350"/><rect x="23" y="423.5" width="3" height="6.5" fill="#ef5350"/>
<rect x="27.95" y="418.4" width="1.1" height="12.9" fill="#26a69a"/><rect x="27" y="419.7" width="3" height="10.3" fill="#26a69a"/>
<rect x="30.95" y="413.2" width="1.1" height="12.9" fill="#26a69a"/><rect x="30" y="415.3" width="3" height="7.0" fill="#26a69a"/>
<rect x="34.95" y="393.9" width="1.1" height="24.5" fill="#26a69a"/><rect x="34" y="399.0" width="3" height="18.8" fill="#26a69a"/>
<rect x="38.95" y="392.6" width="1.1" height="11.6" fill="#26a69a"/><rect x="38" y="397.0" width="3" height="3.4" fill="#26a69a"/>
<rect x="41.95" y="393.9" width="1.1" height="9.5" fill="#26a69a"/><rect x="41" y="395.2" width="3" height="3.9" fill="#26a69a"/>
<rect x="45.95" y="377.1" width="1.1" height="23.2" fill="#26a69a"/><rect x="45" y="388.7" width="3" height="7.7" fill="#26a69a"/>
<rect x="48.95" y="383.5" width="1.1" height="16.8" fill="#26a69a"/><rect x="48" y="386.9" width="3" height="5.7" fill="#26a69a"/>
<rect x="52.95" y="384.8" width="1.1" height="11.6" fill="#ef5350"/><rect x="52" y="386.1" width="3" height="6.5" fill="#ef5350"/>
<rect x="56.95" y="378.4" width="1.1" height="15.5" fill="#26a69a"/><rect x="56" y="387.4" width="3" height="5.2" fill="#26a69a"/>
<rect x="59.95" y="366.3" width="1.1" height="27.6" fill="#26a69a"/><rect x="59" y="367.3" width="3" height="21.4" fill="#26a69a"/>
<rect x="63.95" y="357.7" width="1.1" height="14.2" fill="#26a69a"/><rect x="63" y="360.3" width="3" height="8.5" fill="#26a69a"/>
<rect x="66.95" y="357.7" width="1.1" height="12.1" fill="#ef5350"/><rect x="66" y="359.0" width="3" height="9.0" fill="#ef5350"/>
<rect x="70.95" y="355.2" width="1.1" height="18.6" fill="#26a69a"/><rect x="70" y="355.9" width="3" height="12.1" fill="#26a69a"/>
<rect x="73.95" y="343.5" width="1.1" height="18.1" fill="#26a69a"/><rect x="73" y="344.8" width="3" height="12.9" fill="#26a69a"/>
<rect x="77.95" y="328.8" width="1.1" height="41.1" fill="#26a69a"/><rect x="77" y="342.5" width="3" height="4.1" fill="#26a69a"/>
<rect x="81.95" y="334.3" width="1.1" height="17.8" fill="#26a69a"/><rect x="81" y="339.8" width="3" height="4.1" fill="#26a69a"/>
<rect x="84.95" y="337.0" width="1.1" height="34.8" fill="#ef5350"/><rect x="84" y="340.6" width="3" height="12.9" fill="#ef5350"/>
<rect x="88.95" y="341.1" width="1.1" height="19.2" fill="#26a69a"/><rect x="88" y="345.2" width="3" height="8.2" fill="#26a69a"/>
<rect x="91.95" y="316.5" width="1.1" height="31.5" fill="#26a69a"/><rect x="91" y="320.6" width="3" height="25.5" fill="#26a69a"/>
<rect x="95.95" y="312.9" width="1.1" height="25.5" fill="#ef5350"/><rect x="95" y="320.6" width="3" height="6.9" fill="#ef5350"/>
<rect x="99.95" y="317.8" width="1.1" height="23.3" fill="#ef5350"/><rect x="99" y="324.7" width="3" height="5.5" fill="#ef5350"/>
<rect x="102.95" y="324.1" width="1.1" height="25.2" fill="#26a69a"/><rect x="102" y="326.9" width="3" height="3.8" fill="#26a69a"/>
<rect x="106.95" y="323.3" width="1.1" height="16.5" fill="#ef5350"/><rect x="106" y="327.4" width="3" height="5.5" fill="#ef5350"/>
<rect x="109.95" y="326.0" width="1.1" height="22.8" fill="#ef5350"/><rect x="109" y="331.5" width="3" height="6.9" fill="#ef5350"/>
<rect x="113.95" y="320.6" width="1.1" height="21.9" fill="#26a69a"/><rect x="113" y="327.4" width="3" height="11.0" fill="#26a69a"/>
<rect x="116.95" y="318.6" width="1.1" height="19.7" fill="#ef5350"/><rect x="116" y="326.0" width="3" height="4.1" fill="#ef5350"/>
<rect x="120.95" y="323.3" width="1.1" height="13.7" fill="#26a69a"/><rect x="120" y="325.2" width="3" height="4.4" fill="#26a69a"/>
<rect x="124.95" y="324.7" width="1.1" height="12.3" fill="#ef5350"/><rect x="124" y="326.6" width="3" height="8.5" fill="#ef5350"/>
<rect x="127.95" y="319.7" width="1.1" height="15.9" fill="#26a69a"/><rect x="127" y="330.2" width="3" height="4.1" fill="#26a69a"/>
<rect x="131.95" y="322.5" width="1.1" height="11.8" fill="#26a69a"/><rect x="131" y="324.1" width="3" height="7.4" fill="#26a69a"/>
<rect x="134.95" y="321.9" width="1.1" height="26.0" fill="#ef5350"/><rect x="134" y="324.1" width="3" height="19.7" fill="#ef5350"/>
<rect x="138.95" y="334.3" width="1.1" height="16.5" fill="#26a69a"/><rect x="138" y="338.4" width="3" height="5.5" fill="#26a69a"/>
<rect x="142.95" y="336.6" width="1.1" height="27.8" fill="#ef5350"/><rect x="142" y="337.8" width="3" height="23.0" fill="#ef5350"/>
<rect x="145.95" y="346.3" width="1.1" height="36.3" fill="#26a69a"/><rect x="145" y="353.1" width="3" height="7.7" fill="#26a69a"/>
<rect x="149.95" y="354.8" width="1.1" height="29.0" fill="#ef5350"/><rect x="149" y="356.0" width="3" height="26.6" fill="#ef5350"/>
<rect x="152.95" y="375.3" width="1.1" height="36.3" fill="#ef5350"/><rect x="152" y="381.4" width="3" height="13.3" fill="#ef5350"/>
<rect x="156.95" y="371.7" width="1.1" height="25.4" fill="#ef5350"/><rect x="156" y="393.5" width="3" height="2.4" fill="#ef5350"/>
<rect x="159.95" y="387.4" width="1.1" height="39.9" fill="#ef5350"/><rect x="159" y="393.5" width="3" height="29.0" fill="#ef5350"/>
<rect x="163.95" y="401.9" width="1.1" height="31.9" fill="#26a69a"/><rect x="163" y="414.5" width="3" height="8.0" fill="#26a69a"/>
<rect x="167.95" y="380.2" width="1.1" height="43.6" fill="#26a69a"/><rect x="167" y="381.4" width="3" height="33.9" fill="#26a69a"/>
<rect x="170.95" y="380.2" width="1.1" height="19.4" fill="#ef5350"/><rect x="170" y="381.9" width="3" height="4.4" fill="#ef5350"/>
<rect x="174.95" y="368.1" width="1.1" height="24.2" fill="#26a69a"/><rect x="174" y="371.7" width="3" height="14.5" fill="#26a69a"/>
<rect x="177.95" y="370.5" width="1.1" height="19.4" fill="#ef5350"/><rect x="177" y="371.7" width="3" height="10.9" fill="#ef5350"/>
<rect x="181.95" y="379.0" width="1.1" height="32.7" fill="#ef5350"/><rect x="181" y="380.2" width="3" height="19.4" fill="#ef5350"/>
<rect x="185.95" y="380.2" width="1.1" height="19.4" fill="#26a69a"/><rect x="185" y="388.6" width="3" height="9.7" fill="#26a69a"/>
<rect x="188.95" y="386.2" width="1.1" height="19.4" fill="#ef5350"/><rect x="188" y="389.4" width="3" height="7.7" fill="#ef5350"/>
<rect x="192.95" y="392.3" width="1.1" height="21.8" fill="#ef5350"/><rect x="192" y="395.9" width="3" height="3.6" fill="#ef5350"/>
<rect x="195.95" y="383.8" width="1.1" height="26.6" fill="#26a69a"/><rect x="195" y="385.5" width="3" height="14.0" fill="#26a69a"/>
<rect x="199.95" y="385.0" width="1.1" height="9.7" fill="#ef5350"/><rect x="199" y="386.2" width="3" height="7.3" fill="#ef5350"/>
<rect x="202.95" y="383.8" width="1.1" height="13.3" fill="#26a69a"/><rect x="202" y="387.9" width="3" height="4.8" fill="#26a69a"/>
<rect x="206.95" y="374.1" width="1.1" height="19.4" fill="#26a69a"/><rect x="206" y="375.3" width="3" height="14.5" fill="#26a69a"/>
<rect x="210.95" y="357.2" width="1.1" height="21.8" fill="#26a69a"/><rect x="210" y="362.0" width="3" height="15.7" fill="#26a69a"/>
<rect x="213.95" y="352.3" width="1.1" height="14.5" fill="#ef5350"/><rect x="213" y="362.0" width="3" height="3.6" fill="#ef5350"/>
<rect x="217.95" y="346.3" width="1.1" height="23.0" fill="#26a69a"/><rect x="217" y="352.3" width="3" height="13.3" fill="#26a69a"/>
<rect x="220.95" y="345.1" width="1.1" height="13.3" fill="#26a69a"/><rect x="220" y="350.6" width="3" height="4.1" fill="#26a69a"/>
<rect x="224.95" y="333.0" width="1.1" height="25.4" fill="#26a69a"/><rect x="224" y="338.6" width="3" height="14.5" fill="#26a69a"/>
<rect x="228.95" y="334.2" width="1.1" height="9.7" fill="#26a69a"/><rect x="228" y="336.1" width="3" height="4.1" fill="#26a69a"/>
<rect x="231.95" y="334.2" width="1.1" height="19.4" fill="#ef5350"/><rect x="231" y="335.4" width="3" height="9.7" fill="#ef5350"/>
<rect x="235.95" y="336.6" width="1.1" height="15.7" fill="#ef5350"/><rect x="235" y="343.9" width="3" height="4.8" fill="#ef5350"/>
<rect x="238.95" y="345.1" width="1.1" height="14.5" fill="#ef5350"/><rect x="238" y="346.3" width="3" height="4.8" fill="#ef5350"/>
<rect x="242.95" y="346.8" width="1.1" height="10.4" fill="#ef5350"/><rect x="242" y="349.9" width="3" height="5.6" fill="#ef5350"/>
<rect x="246.95" y="352.3" width="1.1" height="32.7" fill="#ef5350"/><rect x="246" y="353.6" width="3" height="26.6" fill="#ef5350"/>
<rect x="249.95" y="371.7" width="1.1" height="21.8" fill="#ef5350"/><rect x="249" y="379.0" width="3" height="6.0" fill="#ef5350"/>
<rect x="253.95" y="365.6" width="1.1" height="23.0" fill="#26a69a"/><rect x="253" y="367.6" width="3" height="17.4" fill="#26a69a"/>
<rect x="256.95" y="358.4" width="1.1" height="19.4" fill="#26a69a"/><rect x="256" y="366.4" width="3" height="2.9" fill="#26a69a"/>
<rect x="260.95" y="363.7" width="1.1" height="17.7" fill="#26a69a"/><rect x="260" y="364.4" width="3" height="6.0" fill="#26a69a"/>
<rect x="263.95" y="355.5" width="1.1" height="17.4" fill="#26a69a"/><rect x="263" y="357.9" width="3" height="12.6" fill="#26a69a"/>
<rect x="267.95" y="356.0" width="1.1" height="12.1" fill="#ef5350"/><rect x="267" y="357.9" width="3" height="3.4" fill="#ef5350"/>
<rect x="271.95" y="357.9" width="1.1" height="17.4" fill="#ef5350"/><rect x="271" y="360.3" width="3" height="12.6" fill="#ef5350"/>
<rect x="274.95" y="368.1" width="1.1" height="15.7" fill="#ef5350"/><rect x="274" y="371.7" width="3" height="3.6" fill="#ef5350"/>
<rect x="278.95" y="369.3" width="1.1" height="13.3" fill="#26a69a"/><rect x="278" y="373.4" width="3" height="3.1" fill="#26a69a"/>
<rect x="281.95" y="371.7" width="1.1" height="20.6" fill="#ef5350"/><rect x="281" y="372.9" width="3" height="16.9" fill="#ef5350"/>
<rect x="285.95" y="382.6" width="1.1" height="16.5" fill="#26a69a"/><rect x="285" y="383.8" width="3" height="6.5" fill="#26a69a"/>
<rect x="289.95" y="375.6" width="1.1" height="14.5" fill="#26a69a"/><rect x="289" y="378.1" width="3" height="7.3" fill="#26a69a"/>
<rect x="292.95" y="374.4" width="1.1" height="7.3" fill="#ef5350"/><rect x="292" y="378.1" width="3" height="2.4" fill="#ef5350"/>
<rect x="296.95" y="367.2" width="1.1" height="14.5" fill="#26a69a"/><rect x="296" y="376.9" width="3" height="3.6" fill="#26a69a"/>
<rect x="299.95" y="376.9" width="1.1" height="12.1" fill="#ef5350"/><rect x="299" y="378.1" width="3" height="8.5" fill="#ef5350"/>
<rect x="303.95" y="372.0" width="1.1" height="16.9" fill="#26a69a"/><rect x="303" y="374.4" width="3" height="10.9" fill="#26a69a"/>
<rect x="306.95" y="368.4" width="1.1" height="9.7" fill="#26a69a"/><rect x="306" y="370.8" width="3" height="6.0" fill="#26a69a"/>
<rect x="310.95" y="359.9" width="1.1" height="15.7" fill="#ef5350"/><rect x="310" y="370.8" width="3" height="3.6" fill="#ef5350"/>
<rect x="314.95" y="370.3" width="1.1" height="12.6" fill="#ef5350"/><rect x="314" y="372.7" width="3" height="4.1" fill="#ef5350"/>
<rect x="317.95" y="367.9" width="1.1" height="10.2" fill="#26a69a"/><rect x="317" y="369.6" width="3" height="7.3" fill="#26a69a"/>
<rect x="321.95" y="362.3" width="1.1" height="10.4" fill="#ef5350"/><rect x="321" y="369.6" width="3" height="1.7" fill="#ef5350"/>
<rect x="324.95" y="363.1" width="1.1" height="9.0" fill="#26a69a"/><rect x="324" y="364.0" width="3" height="6.8" fill="#26a69a"/>
<rect x="328.95" y="358.7" width="1.1" height="7.3" fill="#26a69a"/><rect x="328" y="361.6" width="3" height="3.1" fill="#26a69a"/>
<rect x="332.95" y="359.9" width="1.1" height="10.9" fill="#ef5350"/><rect x="332" y="361.6" width="3" height="8.0" fill="#ef5350"/>
<rect x="335.95" y="356.3" width="1.1" height="19.4" fill="#ef5350"/><rect x="335" y="362.3" width="3" height="12.1" fill="#ef5350"/>
<rect x="339.95" y="368.4" width="1.1" height="10.9" fill="#ef5350"/><rect x="339" y="372.0" width="3" height="6.0" fill="#ef5350"/>
<rect x="342.95" y="372.0" width="1.1" height="16.9" fill="#ef5350"/><rect x="342" y="376.9" width="3" height="10.4" fill="#ef5350"/>
<rect x="346.95" y="378.1" width="1.1" height="10.9" fill="#26a69a"/><rect x="346" y="380.0" width="3" height="6.5" fill="#26a69a"/>
<rect x="349.95" y="376.9" width="1.1" height="20.6" fill="#ef5350"/><rect x="349" y="380.5" width="3" height="12.1" fill="#ef5350"/>
<rect x="353.95" y="381.7" width="1.1" height="15.2" fill="#ef5350"/><rect x="353" y="391.4" width="3" height="3.6" fill="#ef5350"/>
<rect x="357.95" y="382.9" width="1.1" height="20.6" fill="#26a69a"/><rect x="357" y="384.1" width="3" height="11.4" fill="#26a69a"/>
<rect x="360.95" y="378.8" width="1.1" height="13.8" fill="#26a69a"/><rect x="360" y="380.5" width="3" height="4.4" fill="#26a69a"/>
<rect x="364.95" y="379.3" width="1.1" height="15.7" fill="#ef5350"/><rect x="364" y="380.5" width="3" height="12.1" fill="#ef5350"/>
<rect x="367.95" y="386.5" width="1.1" height="10.9" fill="#26a69a"/><rect x="367" y="389.0" width="3" height="3.6" fill="#26a69a"/>
<rect x="371.95" y="389.0" width="1.1" height="29.0" fill="#ef5350"/><rect x="371" y="390.2" width="3" height="26.6" fill="#ef5350"/>
<rect x="375.95" y="408.3" width="1.1" height="19.4" fill="#ef5350"/><rect x="375" y="415.6" width="3" height="8.5" fill="#ef5350"/>
<rect x="378.95" y="410.0" width="1.1" height="16.5" fill="#26a69a"/><rect x="378" y="411.9" width="3" height="12.1" fill="#26a69a"/>
<rect x="382.95" y="410.7" width="1.1" height="27.3" fill="#ef5350"/><rect x="382" y="411.9" width="3" height="18.1" fill="#ef5350"/>
<rect x="385.95" y="426.5" width="1.1" height="24.2" fill="#26a69a"/><rect x="385" y="427.7" width="3" height="2.4" fill="#26a69a"/>
<rect x="389.95" y="415.6" width="1.1" height="16.2" fill="#ef5350"/><rect x="389" y="427.7" width="3" height="3.1" fill="#ef5350"/>
<rect x="392.95" y="416.8" width="1.1" height="16.9" fill="#26a69a"/><rect x="392" y="418.7" width="3" height="11.4" fill="#26a69a"/>
<rect x="396.95" y="410.0" width="1.1" height="15.2" fill="#26a69a"/><rect x="396" y="411.9" width="3" height="9.2" fill="#26a69a"/>
<rect x="400.95" y="399.8" width="1.1" height="18.1" fill="#26a69a"/><rect x="400" y="401.8" width="3" height="12.1" fill="#26a69a"/>
<rect x="403.95" y="398.6" width="1.1" height="10.9" fill="#ef5350"/><rect x="403" y="401.1" width="3" height="7.3" fill="#ef5350"/>
<rect x="407.95" y="405.9" width="1.1" height="11.4" fill="#ef5350"/><rect x="407" y="407.1" width="3" height="7.3" fill="#ef5350"/>
<rect x="410.95" y="402.3" width="1.1" height="13.3" fill="#26a69a"/><rect x="410" y="407.6" width="3" height="6.3" fill="#26a69a"/>
<rect x="414.95" y="405.9" width="1.1" height="16.9" fill="#ef5350"/><rect x="414" y="407.6" width="3" height="14.0" fill="#ef5350"/>
<rect x="418.95" y="413.2" width="1.1" height="11.4" fill="#26a69a"/><rect x="418" y="418.0" width="3" height="3.6" fill="#26a69a"/>
<rect x="421.95" y="413.2" width="1.1" height="7.3" fill="#26a69a"/><rect x="421" y="414.4" width="3" height="4.8" fill="#26a69a"/>
<rect x="425.95" y="413.2" width="1.1" height="6.5" fill="#ef5350"/><rect x="425" y="414.4" width="3" height="3.6" fill="#ef5350"/>
<rect x="428.95" y="409.5" width="1.1" height="12.1" fill="#26a69a"/><rect x="428" y="411.9" width="3" height="6.0" fill="#26a69a"/>
<rect x="432.95" y="405.9" width="1.1" height="8.5" fill="#26a69a"/><rect x="432" y="408.3" width="3" height="4.1" fill="#26a69a"/>
<rect x="436.95" y="405.9" width="1.1" height="6.0" fill="#26a69a"/><rect x="436" y="407.1" width="3" height="3.6" fill="#26a69a"/>
<rect x="439.95" y="407.1" width="1.1" height="11.6" fill="#ef5350"/><rect x="439" y="408.4" width="3" height="9.0" fill="#ef5350"/>
<rect x="443.95" y="414.8" width="1.1" height="15.0" fill="#ef5350"/><rect x="443" y="416.9" width="3" height="8.3" fill="#ef5350"/>
<rect x="446.95" y="413.5" width="1.1" height="12.9" fill="#26a69a"/><rect x="446" y="414.8" width="3" height="10.3" fill="#26a69a"/>
<rect x="450.95" y="399.4" width="1.1" height="18.1" fill="#26a69a"/><rect x="450" y="401.2" width="3" height="15.0" fill="#26a69a"/>
<rect x="453.95" y="398.8" width="1.1" height="7.0" fill="#ef5350"/><rect x="453" y="401.4" width="3" height="3.1" fill="#ef5350"/>
<rect x="457.95" y="401.4" width="1.1" height="9.5" fill="#ef5350"/><rect x="457" y="402.5" width="3" height="4.1" fill="#ef5350"/>
<rect x="461.95" y="387.7" width="1.1" height="19.4" fill="#26a69a"/><rect x="461" y="391.1" width="3" height="14.7" fill="#26a69a"/>
<rect x="464.95" y="389.0" width="1.1" height="14.2" fill="#ef5350"/><rect x="464" y="391.1" width="3" height="10.8" fill="#ef5350"/>
<rect x="468.95" y="401.0" width="1.1" height="17.7" fill="#ef5350"/><rect x="468" y="402.3" width="3" height="13.5" fill="#ef5350"/>
<rect x="471.95" y="406.0" width="1.1" height="18.0" fill="#ef5350"/><rect x="471" y="408.0" width="3" height="14.0" fill="#ef5350"/>
<rect x="475.95" y="413.9" width="1.1" height="13.8" fill="#26a69a"/><rect x="475" y="421.0" width="3" height="2.0" fill="#26a69a"/>
<rect x="479.95" y="411.9" width="1.1" height="12.9" fill="#26a69a"/><rect x="479" y="419.0" width="3" height="2.6" fill="#26a69a"/>
<rect x="482.95" y="413.0" width="1.1" height="17.5" fill="#ef5350"/><rect x="482" y="415.0" width="3" height="13.0" fill="#ef5350"/>
<rect x="486.95" y="412.9" width="1.1" height="11.9" fill="#26a69a"/><rect x="486" y="414.8" width="3" height="6.2" fill="#26a69a"/>
<rect x="489.95" y="408.0" width="1.1" height="11.7" fill="#26a69a"/><rect x="489" y="413.2" width="3" height="2.6" fill="#26a69a"/>
<rect x="493.95" y="410.5" width="1.1" height="10.5" fill="#ef5350"/><rect x="493" y="412.0" width="3" height="7.0" fill="#ef5350"/>
<rect x="496.95" y="413.0" width="1.1" height="11.0" fill="#ef5350"/><rect x="496" y="415.0" width="3" height="7.0" fill="#ef5350"/>
<rect x="500.95" y="418.0" width="1.1" height="15.0" fill="#ef5350"/><rect x="500" y="419.0" width="3" height="12.6" fill="#ef5350"/>
<rect x="504.95" y="425.5" width="1.1" height="20.5" fill="#ef5350"/><rect x="504" y="427.0" width="3" height="9.0" fill="#ef5350"/>
<rect x="507.95" y="428.0" width="1.1" height="15.0" fill="#26a69a"/><rect x="507" y="430.3" width="3" height="5.2" fill="#26a69a"/>
<rect x="511.95" y="422.0" width="1.1" height="17.0" fill="#ef5350"/><rect x="511" y="429.5" width="3" height="6.5" fill="#ef5350"/>
<rect x="514.95" y="421.3" width="1.1" height="19.9" fill="#26a69a"/><rect x="514" y="422.6" width="3" height="15.0" fill="#26a69a"/>
<rect x="518.95" y="420.0" width="1.1" height="6.5" fill="#ef5350"/><rect x="518" y="422.1" width="3" height="1.8" fill="#ef5350"/>
<rect x="522.95" y="419.5" width="1.1" height="9.5" fill="#26a69a"/><rect x="522" y="421.3" width="3" height="5.2" fill="#26a69a"/>
<rect x="525.95" y="414.8" width="1.1" height="11.6" fill="#26a69a"/><rect x="525" y="417.4" width="3" height="5.2" fill="#26a69a"/>
<rect x="529.95" y="409.7" width="1.1" height="11.6" fill="#26a69a"/><rect x="529" y="412.3" width="3" height="6.5" fill="#26a69a"/>
<rect x="532.95" y="396.8" width="1.1" height="19.4" fill="#26a69a"/><rect x="532" y="401.9" width="3" height="11.6" fill="#26a69a"/>
<rect x="536.95" y="392.9" width="1.1" height="11.6" fill="#26a69a"/><rect x="536" y="398.8" width="3" height="4.4" fill="#26a69a"/>
<rect x="539.95" y="398.1" width="1.1" height="19.4" fill="#ef5350"/><rect x="539" y="399.4" width="3" height="15.5" fill="#ef5350"/>
<rect x="543.95" y="351.6" width="1.1" height="65.8" fill="#26a69a"/><rect x="543" y="364.5" width="3" height="50.3" fill="#26a69a"/>
<rect x="547.95" y="349.0" width="1.1" height="21.9" fill="#26a69a"/><rect x="547" y="363.2" width="3" height="2.6" fill="#26a69a"/>
<rect x="550.95" y="359.4" width="1.1" height="42.6" fill="#ef5350"/><rect x="550" y="363.2" width="3" height="31.0" fill="#ef5350"/>
<rect x="554.95" y="382.0" width="1.1" height="18.6" fill="#ef5350"/><rect x="554" y="393.0" width="3" height="1.5" fill="#ef5350"/>
<rect x="557.95" y="386.5" width="1.1" height="23.2" fill="#ef5350"/><rect x="557" y="394.7" width="3" height="9.8" fill="#ef5350"/>
<rect x="561.95" y="392.9" width="1.1" height="12.9" fill="#26a69a"/><rect x="561" y="395.5" width="3" height="8.5" fill="#26a69a"/>
<rect x="565.95" y="392.3" width="1.1" height="10.3" fill="#ef5350"/><rect x="565" y="395.5" width="3" height="5.1" fill="#ef5350"/>
<rect x="568.95" y="391.6" width="1.1" height="11.6" fill="#26a69a"/><rect x="568" y="394.7" width="3" height="6.7" fill="#26a69a"/>
<rect x="572.95" y="391.6" width="1.1" height="9.0" fill="#26a69a"/><rect x="572" y="392.9" width="3" height="2.6" fill="#26a69a"/>
<rect x="575.95" y="387.7" width="1.1" height="10.3" fill="#ef5350"/><rect x="575" y="392.9" width="3" height="2.6" fill="#ef5350"/>
<rect x="579.95" y="392.9" width="1.1" height="6.5" fill="#ef5350"/><rect x="579" y="394.2" width="3" height="3.9" fill="#ef5350"/>
<rect x="583.95" y="395.5" width="1.1" height="7.7" fill="#ef5350"/><rect x="583" y="398.1" width="3" height="3.4" fill="#ef5350"/>
<rect x="586.95" y="398.1" width="1.1" height="7.0" fill="#ef5350"/><rect x="586" y="399.9" width="3" height="3.4" fill="#ef5350"/>
<rect x="590.95" y="394.4" width="1.1" height="17.8" fill="#ef5350"/><rect x="590" y="400.7" width="3" height="8.4" fill="#ef5350"/>
<rect x="593.95" y="405.9" width="1.1" height="9.4" fill="#ef5350"/><rect x="593" y="408.0" width="3" height="2.1" fill="#ef5350"/>
<rect x="597.95" y="403.8" width="1.1" height="9.4" fill="#26a69a"/><rect x="597" y="405.9" width="3" height="4.2" fill="#26a69a"/>
<rect x="600.95" y="400.2" width="1.1" height="14.7" fill="#26a69a"/><rect x="600" y="401.3" width="3" height="5.7" fill="#26a69a"/>
<rect x="604.95" y="391.8" width="1.1" height="13.0" fill="#26a69a"/><rect x="604" y="398.6" width="3" height="3.8" fill="#26a69a"/>
<rect x="608.95" y="389.1" width="1.1" height="13.6" fill="#26a69a"/><rect x="608" y="395.4" width="3" height="4.2" fill="#26a69a"/>
<rect x="611.95" y="391.2" width="1.1" height="15.3" fill="#ef5350"/><rect x="611" y="392.3" width="3" height="13.6" fill="#ef5350"/>
<rect x="615.95" y="396.0" width="1.1" height="10.5" fill="#26a69a"/><rect x="615" y="397.5" width="3" height="8.4" fill="#26a69a"/>
<rect x="618.95" y="396.5" width="1.1" height="6.3" fill="#ef5350"/><rect x="618" y="397.5" width="3" height="4.2" fill="#ef5350"/>
<rect x="622.95" y="395.4" width="1.1" height="7.3" fill="#26a69a"/><rect x="622" y="398.6" width="3" height="3.1" fill="#26a69a"/>
<rect x="626.95" y="392.3" width="1.1" height="10.5" fill="#26a69a"/><rect x="626" y="393.9" width="3" height="7.8" fill="#26a69a"/>
<rect x="629.95" y="379.3" width="1.1" height="16.8" fill="#26a69a"/><rect x="629" y="388.1" width="3" height="6.7" fill="#26a69a"/>
<rect x="633.95" y="383.9" width="1.1" height="10.5" fill="#ef5350"/><rect x="633" y="388.1" width="3" height="2.5" fill="#ef5350"/>
<rect x="636.95" y="376.5" width="1.1" height="15.7" fill="#26a69a"/><rect x="636" y="377.6" width="3" height="12.6" fill="#26a69a"/>
<rect x="640.95" y="377.2" width="1.1" height="5.7" fill="#ef5350"/><rect x="640" y="378.6" width="3" height="3.1" fill="#ef5350"/>
<rect x="643.95" y="370.9" width="1.1" height="12.0" fill="#26a69a"/><rect x="643" y="371.7" width="3" height="10.1" fill="#26a69a"/>
<rect x="647.95" y="367.1" width="1.1" height="8.0" fill="#ef5350"/><rect x="647" y="371.3" width="3" height="2.5" fill="#ef5350"/>
<rect x="651.95" y="372.3" width="1.1" height="9.0" fill="#ef5350"/><rect x="651" y="373.0" width="3" height="4.2" fill="#ef5350"/>
<rect x="654.95" y="366.1" width="1.1" height="13.2" fill="#26a69a"/><rect x="654" y="366.7" width="3" height="10.9" fill="#26a69a"/>
<rect x="658.95" y="364.0" width="1.1" height="6.3" fill="#ef5350"/><rect x="658" y="367.1" width="3" height="2.1" fill="#ef5350"/>
<rect x="661.95" y="358.7" width="1.1" height="10.9" fill="#26a69a"/><rect x="661" y="359.3" width="3" height="9.4" fill="#26a69a"/>
<rect x="665.95" y="352.4" width="1.1" height="10.5" fill="#ef5350"/><rect x="665" y="359.3" width="3" height="2.1" fill="#ef5350"/>
<rect x="669.95" y="353.5" width="1.1" height="9.4" fill="#26a69a"/><rect x="669" y="357.0" width="3" height="4.2" fill="#26a69a"/>
<rect x="672.95" y="347.2" width="1.1" height="21.6" fill="#ef5350"/><rect x="672" y="356.6" width="3" height="6.3" fill="#ef5350"/>
<rect x="676.95" y="358.7" width="1.1" height="16.4" fill="#ef5350"/><rect x="676" y="361.9" width="3" height="9.4" fill="#ef5350"/>
<rect x="679.95" y="359.8" width="1.1" height="13.2" fill="#26a69a"/><rect x="679" y="360.8" width="3" height="10.5" fill="#26a69a"/>
<rect x="683.95" y="357.0" width="1.1" height="11.1" fill="#ef5350"/><rect x="683" y="360.8" width="3" height="6.3" fill="#ef5350"/>
<rect x="686.95" y="361.2" width="1.1" height="9.6" fill="#26a69a"/><rect x="686" y="362.5" width="3" height="4.2" fill="#26a69a"/>
<rect x="690.95" y="358.3" width="1.1" height="6.7" fill="#26a69a"/><rect x="690" y="359.3" width="3" height="3.6" fill="#26a69a"/>
<rect x="694.95" y="356.6" width="1.1" height="5.2" fill="#26a69a"/><rect x="694" y="357.7" width="3" height="2.1" fill="#26a69a"/>
<rect x="697.95" y="351.4" width="1.1" height="9.4" fill="#26a69a"/><rect x="697" y="355.6" width="3" height="3.1" fill="#26a69a"/>
<rect x="701.95" y="354.1" width="1.1" height="9.9" fill="#ef5350"/><rect x="701" y="355.6" width="3" height="4.2" fill="#ef5350"/>
<rect x="704.95" y="352.0" width="1.1" height="9.9" fill="#26a69a"/><rect x="704" y="352.4" width="3" height="7.3" fill="#26a69a"/>
<rect x="708.95" y="337.7" width="1.1" height="16.4" fill="#26a69a"/><rect x="708" y="340.9" width="3" height="12.0" fill="#26a69a"/>
<rect x="712.95" y="339.8" width="1.1" height="8.0" fill="#ef5350"/><rect x="712" y="340.9" width="3" height="1.5" fill="#ef5350"/>
<rect x="715.95" y="329.4" width="1.1" height="13.0" fill="#26a69a"/><rect x="715" y="331.9" width="3" height="9.6" fill="#26a69a"/>
<rect x="719.95" y="325.6" width="1.1" height="11.1" fill="#26a69a"/><rect x="719" y="326.2" width="3" height="6.9" fill="#26a69a"/>
<rect x="722.95" y="324.7" width="1.1" height="10.9" fill="#ef5350"/><rect x="722" y="325.6" width="3" height="6.9" fill="#ef5350"/>
<rect x="726.95" y="329.4" width="1.1" height="15.7" fill="#ef5350"/><rect x="726" y="331.5" width="3" height="12.2" fill="#ef5350"/>
<rect x="729.95" y="338.2" width="1.1" height="14.3" fill="#ef5350"/><rect x="729" y="343.0" width="3" height="3.6" fill="#ef5350"/>
<rect x="733.95" y="343.0" width="1.1" height="13.6" fill="#26a69a"/><rect x="733" y="344.5" width="3" height="2.7" fill="#26a69a"/>
<rect x="737.95" y="338.2" width="1.1" height="10.1" fill="#26a69a"/><rect x="737" y="343.6" width="3" height="2.1" fill="#26a69a"/>
<rect x="740.95" y="342.2" width="1.1" height="18.1" fill="#ef5350"/><rect x="740" y="343.4" width="3" height="12.1" fill="#ef5350"/>
<rect x="744.95" y="349.4" width="1.1" height="13.3" fill="#26a69a"/><rect x="744" y="351.9" width="3" height="3.6" fill="#26a69a"/>
<rect x="747.95" y="344.6" width="1.1" height="12.1" fill="#26a69a"/><rect x="747" y="347.0" width="3" height="8.0" fill="#26a69a"/>
<rect x="751.95" y="343.4" width="1.1" height="12.1" fill="#ef5350"/><rect x="751" y="347.0" width="3" height="7.3" fill="#ef5350"/>
<rect x="755.95" y="341.0" width="1.1" height="14.5" fill="#26a69a"/><rect x="755" y="342.2" width="3" height="12.1" fill="#26a69a"/>
<rect x="758.95" y="338.6" width="1.1" height="7.3" fill="#26a69a"/><rect x="758" y="340.5" width="3" height="2.9" fill="#26a69a"/>
<rect x="762.95" y="282.9" width="1.1" height="59.3" fill="#26a69a"/><rect x="762" y="296.2" width="3" height="44.8" fill="#26a69a"/>
<rect x="765.95" y="290.2" width="1.1" height="18.9" fill="#ef5350"/><rect x="765" y="296.2" width="3" height="7.3" fill="#ef5350"/>
<rect x="769.95" y="261.1" width="1.1" height="44.0" fill="#26a69a"/><rect x="769" y="269.1" width="3" height="35.1" fill="#26a69a"/>
<rect x="773.95" y="256.3" width="1.1" height="21.3" fill="#26a69a"/><rect x="773" y="266.0" width="3" height="3.6" fill="#26a69a"/>
<rect x="776.95" y="250.2" width="1.1" height="20.6" fill="#26a69a"/><rect x="776" y="257.5" width="3" height="9.7" fill="#26a69a"/>
<rect x="780.95" y="251.5" width="1.1" height="25.4" fill="#ef5350"/><rect x="780" y="257.5" width="3" height="10.9" fill="#ef5350"/>
<rect x="783.95" y="261.1" width="1.1" height="23.0" fill="#26a69a"/><rect x="783" y="264.8" width="3" height="3.6" fill="#26a69a"/>
<rect x="787.95" y="257.5" width="1.1" height="14.5" fill="#26a69a"/><rect x="787" y="261.1" width="3" height="4.4" fill="#26a69a"/>
<rect x="790.95" y="256.8" width="1.1" height="15.2" fill="#ef5350"/><rect x="790" y="261.6" width="3" height="8.0" fill="#ef5350"/>
<rect x="794.95" y="262.3" width="1.1" height="10.9" fill="#ef5350"/><rect x="794" y="268.4" width="3" height="2.9" fill="#ef5350"/>
<rect x="798.95" y="261.1" width="1.1" height="15.7" fill="#26a69a"/><rect x="798" y="266.0" width="3" height="5.3" fill="#26a69a"/>
<rect x="801.95" y="258.2" width="1.1" height="11.4" fill="#26a69a"/><rect x="801" y="264.8" width="3" height="2.4" fill="#26a69a"/>
<rect x="805.95" y="265.5" width="1.1" height="31.5" fill="#ef5350"/><rect x="805" y="266.0" width="3" height="24.2" fill="#ef5350"/>
<rect x="808.95" y="279.3" width="1.1" height="16.2" fill="#26a69a"/><rect x="808" y="281.0" width="3" height="9.7" fill="#26a69a"/>
<rect x="812.95" y="278.1" width="1.1" height="13.3" fill="#ef5350"/><rect x="812" y="280.5" width="3" height="5.3" fill="#ef5350"/>
<rect x="816.95" y="276.1" width="1.1" height="17.7" fill="#26a69a"/><rect x="816" y="278.1" width="3" height="7.7" fill="#26a69a"/>
<rect x="819.95" y="275.2" width="1.1" height="15.0" fill="#ef5350"/><rect x="819" y="277.6" width="3" height="10.2" fill="#ef5350"/>
<rect x="823.95" y="267.2" width="1.1" height="21.1" fill="#26a69a"/><rect x="823" y="271.3" width="3" height="16.0" fill="#26a69a"/>
<rect x="826.95" y="244.7" width="1.1" height="28.6" fill="#26a69a"/><rect x="826" y="251.9" width="3" height="20.1" fill="#26a69a"/>
<rect x="830.95" y="247.8" width="1.1" height="15.7" fill="#ef5350"/><rect x="830" y="251.5" width="3" height="2.9" fill="#ef5350"/>
<rect x="833.95" y="244.2" width="1.1" height="23.7" fill="#26a69a"/><rect x="833" y="251.9" width="3" height="2.4" fill="#26a69a"/>
<rect x="837.95" y="238.9" width="1.1" height="19.8" fill="#ef5350"/><rect x="837" y="251.9" width="3" height="5.6" fill="#ef5350"/>
<rect x="841.95" y="255.1" width="1.1" height="10.9" fill="#ef5350"/><rect x="841" y="256.3" width="3" height="3.6" fill="#ef5350"/>
<rect x="844.95" y="251.9" width="1.1" height="10.4" fill="#26a69a"/><rect x="844" y="255.8" width="3" height="4.1" fill="#26a69a"/>
<rect x="848.95" y="250.2" width="1.1" height="22.5" fill="#ef5350"/><rect x="848" y="255.8" width="3" height="7.7" fill="#ef5350"/>
<rect x="851.95" y="252.7" width="1.1" height="11.4" fill="#26a69a"/><rect x="851" y="258.7" width="3" height="4.4" fill="#26a69a"/>
<rect x="855.95" y="250.2" width="1.1" height="10.9" fill="#26a69a"/><rect x="855" y="258.2" width="3" height="1.7" fill="#26a69a"/>
<rect x="859.95" y="249.5" width="1.1" height="11.6" fill="#26a69a"/><rect x="859" y="253.4" width="3" height="6.5" fill="#26a69a"/>
<rect x="862.95" y="251.5" width="1.1" height="13.3" fill="#ef5350"/><rect x="862" y="252.7" width="3" height="10.9" fill="#ef5350"/>
<rect x="866.95" y="256.3" width="1.1" height="14.5" fill="#ef5350"/><rect x="866" y="262.3" width="3" height="4.8" fill="#ef5350"/>
<rect x="869.95" y="258.7" width="1.1" height="13.3" fill="#26a69a"/><rect x="869" y="262.3" width="3" height="4.8" fill="#26a69a"/>
<rect x="873.95" y="258.7" width="1.1" height="7.3" fill="#ef5350"/><rect x="873" y="261.6" width="3" height="3.1" fill="#ef5350"/>
<rect x="876.95" y="258.7" width="1.1" height="7.7" fill="#26a69a"/><rect x="876" y="261.1" width="3" height="3.6" fill="#26a69a"/>
<rect x="880.95" y="255.1" width="1.1" height="9.0" fill="#26a69a"/><rect x="880" y="258.2" width="3" height="4.1" fill="#26a69a"/>
<rect x="884.95" y="236.9" width="1.1" height="23.7" fill="#26a69a"/><rect x="884" y="244.2" width="3" height="15.7" fill="#26a69a"/>
<rect x="887.95" y="237.4" width="1.1" height="10.4" fill="#26a69a"/><rect x="887" y="240.6" width="3" height="4.8" fill="#26a69a"/>
<rect x="891.95" y="233.7" width="1.1" height="16.9" fill="#ef5350"/><rect x="891" y="241.0" width="3" height="5.8" fill="#ef5350"/>
<rect x="894.95" y="240.3" width="1.1" height="8.5" fill="#26a69a"/><rect x="894" y="243.9" width="3" height="2.9" fill="#26a69a"/>
<rect x="898.95" y="238.6" width="1.1" height="9.7" fill="#ef5350"/><rect x="898" y="243.9" width="3" height="3.6" fill="#ef5350"/>
<rect x="902.95" y="241.5" width="1.1" height="39.2" fill="#ef5350"/><rect x="902" y="245.8" width="3" height="16.2" fill="#ef5350"/>
<rect x="905.95" y="256.0" width="1.1" height="14.5" fill="#26a69a"/><rect x="905" y="257.9" width="3" height="4.1" fill="#26a69a"/>
<rect x="909.95" y="251.6" width="1.1" height="10.4" fill="#26a69a"/><rect x="909" y="253.6" width="3" height="7.3" fill="#26a69a"/>
<rect x="912.95" y="249.9" width="1.1" height="7.3" fill="#26a69a"/><rect x="912" y="252.3" width="3" height="2.4" fill="#26a69a"/>
<rect x="916.95" y="243.9" width="1.1" height="10.9" fill="#26a69a"/><rect x="916" y="245.1" width="3" height="8.5" fill="#26a69a"/>
<rect x="919.95" y="243.9" width="1.1" height="12.1" fill="#ef5350"/><rect x="919" y="245.1" width="3" height="9.0" fill="#ef5350"/>
<rect x="923.95" y="234.7" width="1.1" height="27.3" fill="#26a69a"/><rect x="923" y="240.3" width="3" height="14.5" fill="#26a69a"/>
<rect x="927.95" y="228.9" width="1.1" height="17.9" fill="#ef5350"/><rect x="927" y="236.1" width="3" height="5.3" fill="#ef5350"/>
<rect x="930.95" y="237.8" width="1.1" height="7.3" fill="#ef5350"/><rect x="930" y="239.5" width="3" height="3.1" fill="#ef5350"/>
<rect x="934.95" y="221.6" width="1.1" height="28.3" fill="#26a69a"/><rect x="934" y="241.5" width="3" height="1.2" fill="#26a69a"/>
<rect x="937.95" y="237.8" width="1.1" height="18.1" fill="#ef5350"/><rect x="937" y="241.5" width="3" height="6.0" fill="#ef5350"/>
<rect x="941.95" y="238.6" width="1.1" height="11.4" fill="#26a69a"/><rect x="941" y="240.3" width="3" height="6.5" fill="#26a69a"/>
<rect x="945.95" y="228.2" width="1.1" height="14.5" fill="#26a69a"/><rect x="945" y="235.4" width="3" height="5.6" fill="#26a69a"/>
<rect x="948.95" y="217.7" width="1.1" height="23.7" fill="#26a69a"/><rect x="948" y="219.2" width="3" height="16.9" fill="#26a69a"/>
<rect x="952.95" y="212.9" width="1.1" height="12.8" fill="#26a69a"/><rect x="952" y="218.0" width="3" height="2.2" fill="#26a69a"/>
<rect x="955.95" y="213.6" width="1.1" height="11.4" fill="#ef5350"/><rect x="955" y="217.7" width="3" height="1.9" fill="#ef5350"/>
<rect x="959.95" y="206.4" width="1.1" height="16.9" fill="#26a69a"/><rect x="959" y="208.8" width="3" height="10.9" fill="#26a69a"/>
<rect x="963.95" y="203.2" width="1.1" height="8.0" fill="#ef5350"/><rect x="963" y="206.4" width="3" height="3.6" fill="#ef5350"/>
<rect x="966.95" y="205.2" width="1.1" height="6.8" fill="#ef5350"/><rect x="966" y="208.8" width="3" height="1.7" fill="#ef5350"/>
<rect x="970.95" y="207.1" width="1.1" height="11.4" fill="#ef5350"/><rect x="970" y="210.0" width="3" height="2.4" fill="#ef5350"/>
<rect x="973.95" y="207.6" width="1.1" height="13.3" fill="#ef5350"/><rect x="973" y="211.2" width="3" height="6.0" fill="#ef5350"/>
<rect x="977.95" y="207.1" width="1.1" height="15.5" fill="#26a69a"/><rect x="977" y="214.4" width="3" height="3.4" fill="#26a69a"/>
<rect x="980.95" y="207.6" width="1.1" height="9.2" fill="#26a69a"/><rect x="980" y="212.9" width="3" height="2.4" fill="#26a69a"/>
<rect x="984.95" y="208.8" width="1.1" height="9.0" fill="#ef5350"/><rect x="984" y="212.9" width="3" height="3.1" fill="#ef5350"/>
<rect x="988.95" y="211.9" width="1.1" height="13.1" fill="#ef5350"/><rect x="988" y="215.6" width="3" height="3.6" fill="#ef5350"/>
<rect x="991.95" y="210.5" width="1.1" height="12.8" fill="#26a69a"/><rect x="991" y="212.4" width="3" height="6.8" fill="#26a69a"/>
<rect x="995.95" y="199.8" width="1.1" height="15.0" fill="#26a69a"/><rect x="995" y="203.2" width="3" height="10.4" fill="#26a69a"/>
<rect x="998.95" y="190.2" width="1.1" height="17.4" fill="#26a69a"/><rect x="998" y="191.1" width="3" height="12.8" fill="#26a69a"/>
<rect x="1002.95" y="171.1" width="1.1" height="23.7" fill="#26a69a"/><rect x="1002" y="179.4" width="3" height="14.5" fill="#26a69a"/>
<rect x="1006.95" y="164.7" width="1.1" height="18.1" fill="#26a69a"/><rect x="1006" y="171.1" width="3" height="9.0" fill="#26a69a"/>
<rect x="1009.95" y="162.1" width="1.1" height="15.5" fill="#ef5350"/><rect x="1009" y="169.8" width="3" height="3.4" fill="#ef5350"/>
<rect x="1013.95" y="168.0" width="1.1" height="11.4" fill="#ef5350"/><rect x="1013" y="172.4" width="3" height="5.9" fill="#ef5350"/>
<rect x="1016.95" y="165.5" width="1.1" height="15.5" fill="#26a69a"/><rect x="1016" y="166.5" width="3" height="11.9" fill="#26a69a"/>
<rect x="1020.95" y="153.1" width="1.1" height="20.1" fill="#ef5350"/><rect x="1020" y="166.0" width="3" height="2.6" fill="#ef5350"/>
<rect x="1023.95" y="154.4" width="1.1" height="15.5" fill="#26a69a"/><rect x="1023" y="158.7" width="3" height="9.8" fill="#26a69a"/>
<rect x="1027.95" y="156.9" width="1.1" height="36.1" fill="#ef5350"/><rect x="1027" y="158.7" width="3" height="12.9" fill="#ef5350"/>
<rect x="1031.95" y="160.0" width="1.1" height="15.7" fill="#26a69a"/><rect x="1031" y="164.0" width="3" height="8.0" fill="#26a69a"/>
<rect x="1034.95" y="159.0" width="1.1" height="12.0" fill="#ef5350"/><rect x="1034" y="164.0" width="3" height="6.5" fill="#ef5350"/>
<rect x="1038.95" y="150.0" width="1.1" height="21.7" fill="#26a69a"/><rect x="1038" y="156.2" width="3" height="13.7" fill="#26a69a"/>
<rect x="1041.95" y="153.1" width="1.1" height="10.5" fill="#ef5350"/><rect x="1041" y="156.0" width="3" height="1.2" fill="#ef5350"/>
<rect x="1045.95" y="144.8" width="1.1" height="14.7" fill="#26a69a"/><rect x="1045" y="148.4" width="3" height="8.5" fill="#26a69a"/>
<rect x="1049.95" y="146.1" width="1.1" height="14.7" fill="#ef5350"/><rect x="1049" y="147.9" width="3" height="7.7" fill="#ef5350"/>
<rect x="1052.95" y="154.2" width="1.1" height="18.7" fill="#ef5350"/><rect x="1052" y="155.2" width="3" height="16.9" fill="#ef5350"/>
<rect x="1056.95" y="164.0" width="1.1" height="15.0" fill="#26a69a"/><rect x="1056" y="164.8" width="3" height="6.9" fill="#26a69a"/>
<rect x="1059.95" y="163.4" width="1.1" height="33.5" fill="#ef5350"/><rect x="1059" y="164.7" width="3" height="20.6" fill="#ef5350"/>
<rect x="1063.95" y="181.5" width="1.1" height="74.3" fill="#ef5350"/><rect x="1063" y="183.5" width="3" height="14.7" fill="#ef5350"/>
<rect x="1066.95" y="192.3" width="1.1" height="23.2" fill="#26a69a"/><rect x="1066" y="194.4" width="3" height="3.9" fill="#26a69a"/>
<rect x="1070.95" y="180.2" width="1.1" height="17.3" fill="#26a69a"/><rect x="1070" y="189.7" width="3" height="6.7" fill="#26a69a"/>
<rect x="1074.95" y="187.9" width="1.1" height="36.1" fill="#ef5350"/><rect x="1074" y="189.7" width="3" height="22.7" fill="#ef5350"/>
<rect x="1077.95" y="208.5" width="1.1" height="38.7" fill="#ef5350"/><rect x="1077" y="211.1" width="3" height="25.8" fill="#ef5350"/>
<rect x="1081.95" y="231.0" width="1.1" height="55.0" fill="#ef5350"/><rect x="1081" y="235.6" width="3" height="33.5" fill="#ef5350"/>
<rect x="1084.95" y="236.2" width="1.1" height="39.5" fill="#26a69a"/><rect x="1084" y="245.5" width="3" height="23.7" fill="#26a69a"/>
<rect x="1088.95" y="238.7" width="1.1" height="26.6" fill="#ef5350"/><rect x="1088" y="246.0" width="3" height="16.8" fill="#ef5350"/>
<text x="142.5" y="271.0" fill="#ff4a50" font-size="12" text-anchor="middle" stroke="#ff4a50" stroke-width="0.2">Short</text>
<path d="M127.4 291.0L159.4 291.0L143.4 316.8Z" fill="#ff4a50"/>
<rect x="102.0" y="373.0" width="39.0" height="26.0" rx="3" fill="#44a64e"/><path d="M138.0 373.0L146.0 368.0L141.0 379.5Z" fill="#44a64e"/><text x="121.5" y="390.2" fill="#fff" font-size="12.3" text-anchor="middle" stroke="#fff" stroke-width="0.35">Take</text>
<circle cx="143.4" cy="367.3" r="1.6" fill="#44a64e"/>
<rect x="181.0" y="315.0" width="39.0" height="26.0" rx="3" fill="#44a64e"/><path d="M217.0 341.0L225.0 346.0L220.0 334.5Z" fill="#44a64e"/><text x="200.5" y="332.2" fill="#fff" font-size="12.3" text-anchor="middle" stroke="#fff" stroke-width="0.35">Take</text>
<circle cx="218.4" cy="346.0" r="1.4" fill="#44a64e"/>
<circle cx="221.3" cy="346.0" r="1.4" fill="#44a64e"/>
<circle cx="221.8" cy="364.4" r="1.6" fill="#ff4a50"/>
<path d="M218.6 390.2L234.6 416.2L202.6 416.2Z" fill="#44a64e"/>
<text x="205.6" y="442.0" fill="#44a64e" font-size="12" textLength="24.8" lengthAdjust="spacingAndGlyphs" stroke="#44a64e" stroke-width="0.2">Long</text>
<text x="350.5" y="311.0" fill="#ff4a50" font-size="12" text-anchor="middle" stroke="#ff4a50" stroke-width="0.2">Short</text>
<path d="M334.5 331.4L366.5 331.4L350.5 357.2Z" fill="#ff4a50"/>
<rect x="314.0" y="404.0" width="39.0" height="26.0" rx="3" fill="#44a64e"/><path d="M350.0 404.0L358.0 399.0L353.0 410.5Z" fill="#44a64e"/><text x="333.5" y="421.2" fill="#fff" font-size="12.3" text-anchor="middle" stroke="#fff" stroke-width="0.35">Take</text>
<circle cx="350.0" cy="398.0" r="1.6" fill="#44a64e"/>
<circle cx="354.0" cy="398.0" r="1.6" fill="#44a64e"/>
<circle cx="354.6" cy="382.4" r="1.6" fill="#ff4a50"/>
<text x="500.5" y="354.0" fill="#ff4a50" font-size="12" text-anchor="middle" stroke="#ff4a50" stroke-width="0.2">Short</text>
<path d="M486.0 373.5L518.0 373.5L502.0 399.3Z" fill="#ff4a50"/>
<path d="M462.5 427.7L478.5 453.7L446.5 453.7Z" fill="#44a64e"/>
<text x="449.6" y="480.0" fill="#44a64e" font-size="12" textLength="24.8" lengthAdjust="spacingAndGlyphs" stroke="#44a64e" stroke-width="0.2">Long</text>
<rect x="492.5" y="365.8" width="39.0" height="26.0" rx="3" fill="#44a64e"/><path d="M528.5 391.8L536.5 396.8L531.5 385.3Z" fill="#44a64e"/><text x="512.0" y="383.0" fill="#fff" font-size="12.3" text-anchor="middle" stroke="#fff" stroke-width="0.35">Take</text>
<circle cx="533.4" cy="397.3" r="1.6" fill="#44a64e"/>
<circle cx="533.5" cy="413.8" r="1.3" fill="#ff4a50"/>
<rect x="461.2" y="443.0" width="39.0" height="26.0" rx="3" fill="#44a64e"/><path d="M497.2 443.0L505.2 438.0L500.2 449.5Z" fill="#44a64e"/><text x="480.7" y="460.2" fill="#fff" font-size="12.3" text-anchor="middle" stroke="#fff" stroke-width="0.35">Take</text>
<circle cx="501.4" cy="437.5" r="1.6" fill="#44a64e"/>
<circle cx="462.7" cy="385.2" r="1.6" fill="#44a64e"/>
<path d="M533.5 434.6L549.5 460.6L517.5 460.6Z" fill="#44a64e"/>
<text x="520.6" y="487.0" fill="#44a64e" font-size="12" textLength="24.8" lengthAdjust="spacingAndGlyphs" stroke="#44a64e" stroke-width="0.2">Long</text>
<text x="1063.0" y="117.0" fill="#ff4a50" font-size="12" text-anchor="middle" stroke="#ff4a50" stroke-width="0.2">Short</text>
<path d="M1048.5 137.0L1080.5 137.0L1064.5 162.8Z" fill="#ff4a50"/>
<rect x="1024.0" y="214.3" width="39.0" height="26.0" rx="3" fill="#44a64e"/><path d="M1060.0 214.3L1068.0 209.3L1063.0 220.8Z" fill="#44a64e"/><text x="1043.5" y="231.5" fill="#fff" font-size="12.3" text-anchor="middle" stroke="#fff" stroke-width="0.35">Take</text>
<circle cx="1064.0" cy="209.3" r="1.6" fill="#44a64e"/>
<circle cx="922.2" cy="237.6" r="3.3" fill="#f5c518"/>
<text x="1113.5" y="177.7" fill="#131722" font-size="11.9" textLength="67.5" lengthAdjust="spacingAndGlyphs" stroke="#131722" stroke-width="0.18" transform="translate(0 0.3)">Лонг в плюс</text>
<g transform="translate(1185.2 166.6) scale(1.036)"><rect x="0" y="0" width="14" height="14" rx="2.2" fill="url(#gc)"/><path d="M3.2 7.6l2.7 3L10.9 3.6" fill="none" stroke="#fff" stroke-width="2" stroke-linecap="round" stroke-linejoin="round"/></g>
<text x="1204.2" y="177.7" fill="#131722" font-size="11.9" textLength="11.9" lengthAdjust="spacingAndGlyphs" stroke="#131722" stroke-width="0.18" transform="translate(0 0.3)">28</text>
<text x="1113.9" y="189.8" fill="#131722" font-size="11.9" textLength="73.2" lengthAdjust="spacingAndGlyphs" stroke="#131722" stroke-width="0.18" transform="translate(0 0.3)">Лонг в минус</text>
<circle cx="1199.2" cy="185.8" r="7.0" fill="url(#gr)"/>
<text x="1210.0" y="189.8" fill="#131722" font-size="11.9" textLength="6.1" lengthAdjust="spacingAndGlyphs" stroke="#131722" stroke-width="0.18" transform="translate(0 0.3)">8</text>
<text x="1112.5" y="213.4" fill="#131722" font-size="11.9" textLength="69.9" lengthAdjust="spacingAndGlyphs" stroke="#131722" stroke-width="0.18" transform="translate(0 0.3)">Шорт в плюс</text>
<g transform="translate(1186.3 202.0) scale(1.036)"><rect x="0" y="0" width="14" height="14" rx="2.2" fill="url(#gc)"/><path d="M3.2 7.6l2.7 3L10.9 3.6" fill="none" stroke="#fff" stroke-width="2" stroke-linecap="round" stroke-linejoin="round"/></g>
<text x="1205.6" y="213.4" fill="#131722" font-size="11.9" textLength="10.9" lengthAdjust="spacingAndGlyphs" stroke="#131722" stroke-width="0.18" transform="translate(0 0.3)">31</text>
<text x="1112.7" y="225.3" fill="#131722" font-size="11.9" textLength="75.5" lengthAdjust="spacingAndGlyphs" stroke="#131722" stroke-width="0.18" transform="translate(0 0.3)">Шорт в минус</text>
<circle cx="1200.2" cy="221.8" r="7.0" fill="url(#gr)"/>
<text x="1211.4" y="225.3" fill="#131722" font-size="11.9" textLength="5.9" lengthAdjust="spacingAndGlyphs" stroke="#131722" stroke-width="0.18" transform="translate(0 0.3)">5</text>
<text x="1106.9" y="249.2" fill="#131722" font-size="11.9" textLength="80.7" lengthAdjust="spacingAndGlyphs" stroke="#131722" stroke-width="0.18" transform="translate(0 0.3)">Сделок в плюс</text>
<g transform="translate(1192.3 238.0) scale(1.036)"><rect x="0" y="0" width="14" height="14" rx="2.2" fill="url(#gc)"/><path d="M3.2 7.6l2.7 3L10.9 3.6" fill="none" stroke="#fff" stroke-width="2" stroke-linecap="round" stroke-linejoin="round"/></g>
<text x="1211.3" y="249.2" fill="#131722" font-size="11.9" textLength="11.5" lengthAdjust="spacingAndGlyphs" stroke="#131722" stroke-width="0.18" transform="translate(0 0.3)">59</text>
<text x="1104.1" y="261.3" fill="#131722" font-size="11.9" textLength="85.8" lengthAdjust="spacingAndGlyphs" stroke="#131722" stroke-width="0.18" transform="translate(0 0.3)">Сделок в минус</text>
<circle cx="1203.3" cy="258.0" r="7.0" fill="url(#gr)"/>
<text x="1214.7" y="261.3" fill="#131722" font-size="11.9" textLength="11.2" lengthAdjust="spacingAndGlyphs" stroke="#131722" stroke-width="0.18" transform="translate(0 0.3)">13</text>
<text x="1097.7" y="285.6" fill="#131722" font-size="11.9" textLength="78.4" lengthAdjust="spacingAndGlyphs" stroke="#131722" stroke-width="0.18" transform="translate(0 0.3)">Проходимость</text>
<g transform="translate(1184.5 275.6)"><path d="M0.8 3a2.2 2.2 0 1 1 3.3 2c-.8.5-1.1 1-1.1 2.3" fill="none" stroke="#f4f1dc" stroke-width="1.9"/><circle cx="3" cy="10.3" r="1.1" fill="#f4f1dc"/></g>
<text x="1198.8" y="285.6" fill="#131722" font-size="11.9" textLength="34.0" lengthAdjust="spacingAndGlyphs" stroke="#131722" stroke-width="0.18" transform="translate(0 0.3)">81.9 %</text>
<text x="1095.7" y="309.3" fill="#131722" font-size="11.9" textLength="81.6" lengthAdjust="spacingAndGlyphs" stroke="#131722" stroke-width="0.18" transform="translate(0 0.3)">Общий профит</text>
<g transform="translate(1182.2 299.0)"><path d="M0.6 0.9L4.4 0.4L8.2 3.3L3.3 4.1Z" fill="#d2d2ca"/><path d="M10 7.2L14.5 5.8L14.9 11.2L11.6 11.8Z" fill="#d2d2ca"/><path d="M0.6 8.5L10.2 1.1L14.5 3.1L5.2 12Z" fill="#c3c9ba" stroke="#7d826f" stroke-width="0.6" stroke-linejoin="round"/><path d="M4.6 5.5L7 3.7L10.3 7.6L8.2 9.4Z" fill="#dcaa3a"/></g>
<text x="1200.9" y="309.3" fill="#131722" font-size="11.9" textLength="33.7" lengthAdjust="spacingAndGlyphs" stroke="#131722" stroke-width="0.18" transform="translate(0 0.3)">73.9 %</text>
<text x="1081.9" y="321.5" fill="#131722" font-size="11.9" textLength="167.0" lengthAdjust="spacingAndGlyphs" stroke="#131722" stroke-width="0.18" transform="translate(0 0.3)">Максимальная просадка 6.6 %</text>
<rect x="1356" y="0" width="67" height="620" fill="#fff"/>
<line x1="1355.5" x2="1355.5" y1="0" y2="620" stroke="#d5d6da" stroke-width="1"/>
<line x1="0" x2="1423" y1="616.5" y2="616.5" stroke="#d6d7da" stroke-width="1"/>
<rect x="0" y="616.2" width="110.7" height="4" fill="#131722"/>
<line x1="1355" x2="1359.5" y1="47.5" y2="47.5" stroke="#d5d6da"/>
<text x="1365.2" y="51.7" fill="#131722" font-size="12" textLength="48.1" lengthAdjust="spacingAndGlyphs" stroke="#131722" stroke-width="0.28">68000.00</text>
<line x1="1355" x2="1359.5" y1="88.5" y2="88.5" stroke="#d5d6da"/>
<text x="1365.2" y="92.7" fill="#131722" font-size="12" textLength="48.1" lengthAdjust="spacingAndGlyphs" stroke="#131722" stroke-width="0.28">64000.00</text>
<line x1="1355" x2="1359.5" y1="129.5" y2="129.5" stroke="#d5d6da"/>
<text x="1365.2" y="133.7" fill="#131722" font-size="12" textLength="48.1" lengthAdjust="spacingAndGlyphs" stroke="#131722" stroke-width="0.28">60000.00</text>
<line x1="1355" x2="1359.5" y1="170.5" y2="170.5" stroke="#d5d6da"/>
<text x="1365.2" y="174.7" fill="#131722" font-size="12" textLength="48.1" lengthAdjust="spacingAndGlyphs" stroke="#131722" stroke-width="0.28">56000.00</text>
<line x1="1355" x2="1359.5" y1="211.5" y2="211.5" stroke="#d5d6da"/>
<text x="1365.2" y="215.7" fill="#131722" font-size="12" textLength="48.1" lengthAdjust="spacingAndGlyphs" stroke="#131722" stroke-width="0.28">52000.00</text>
<line x1="1355" x2="1359.5" y1="253.5" y2="253.5" stroke="#d5d6da"/>
<text x="1365.2" y="257.7" fill="#131722" font-size="12" textLength="48.1" lengthAdjust="spacingAndGlyphs" stroke="#131722" stroke-width="0.28">48000.00</text>
<line x1="1355" x2="1359.5" y1="294.5" y2="294.5" stroke="#d5d6da"/>
<text x="1365.2" y="298.7" fill="#131722" font-size="12" textLength="48.1" lengthAdjust="spacingAndGlyphs" stroke="#131722" stroke-width="0.28">44000.00</text>
<line x1="1355" x2="1359.5" y1="335.5" y2="335.5" stroke="#d5d6da"/>
<text x="1365.2" y="339.7" fill="#131722" font-size="12" textLength="48.1" lengthAdjust="spacingAndGlyphs" stroke="#131722" stroke-width="0.28">40000.00</text>
<line x1="1355" x2="1359.5" y1="376.5" y2="376.5" stroke="#d5d6da"/>
<text x="1365.2" y="380.7" fill="#131722" font-size="12" textLength="48.1" lengthAdjust="spacingAndGlyphs" stroke="#131722" stroke-width="0.28">36000.00</text>
<line x1="1355" x2="1359.5" y1="417.5" y2="417.5" stroke="#d5d6da"/>
<text x="1365.2" y="421.7" fill="#131722" font-size="12" textLength="48.1" lengthAdjust="spacingAndGlyphs" stroke="#131722" stroke-width="0.28">32000.00</text>
<line x1="1355" x2="1359.5" y1="459.5" y2="459.5" stroke="#d5d6da"/>
<text x="1365.2" y="463.7" fill="#131722" font-size="12" textLength="48.1" lengthAdjust="spacingAndGlyphs" stroke="#131722" stroke-width="0.28">28000.00</text>
<line x1="1355" x2="1359.5" y1="500.5" y2="500.5" stroke="#d5d6da"/>
<text x="1365.2" y="504.7" fill="#131722" font-size="12" textLength="48.1" lengthAdjust="spacingAndGlyphs" stroke="#131722" stroke-width="0.28">24000.00</text>
<line x1="1355" x2="1359.5" y1="541.5" y2="541.5" stroke="#d5d6da"/>
<text x="1365.2" y="545.7" fill="#131722" font-size="12" textLength="48.1" lengthAdjust="spacingAndGlyphs" stroke="#131722" stroke-width="0.28">20000.00</text>
<line x1="1355" x2="1359.5" y1="582.5" y2="582.5" stroke="#d5d6da"/>
<text x="1365.2" y="586.7" fill="#131722" font-size="12" textLength="48.1" lengthAdjust="spacingAndGlyphs" stroke="#131722" stroke-width="0.28">16000.00</text>
<path d="M1355 1H1420V8.5a2 2 0 0 1-2 2H1355Z" fill="#131722"/>
<text x="1365.2" y="4.8" fill="#fff" font-size="12" textLength="47.8" lengthAdjust="spacingAndGlyphs" stroke="#fff" stroke-width="0.28">72533.30</text>
<path d="M1355 254H1417.8a2 2 0 0 1 2 2V268.7a2 2 0 0 1-2 2H1355Z" fill="#ef5350"/>
<line x1="1355" x2="1359.7" y1="262.4" y2="262.4" stroke="#fff" stroke-width="1"/>
<text x="1364.9" y="266.6" fill="#fff" font-size="12" textLength="47.2" lengthAdjust="spacingAndGlyphs" stroke="#fff" stroke-width="0.28">47100.01</text>
<line x1="0" x2="1355" y1="0.5" y2="0.5" stroke="#70737f" stroke-width="1.1" stroke-dasharray="5 6" stroke-dashoffset="2.92"/>
<text x="6.1" y="20.0" fill="#131722" font-size="16" textLength="47.7" lengthAdjust="spacingAndGlyphs" stroke="#131722" stroke-width="0.28">Bitcoin</text>
<text x="64.5" y="20.0" fill="#131722" font-size="16" text-anchor="middle" stroke="#131722" stroke-width="0.2">/</text>
<text x="74.8" y="20.0" fill="#131722" font-size="16" textLength="64.4" lengthAdjust="spacingAndGlyphs" stroke="#131722" stroke-width="0.28">TetherUS</text>
<text x="145.5" y="20.0" fill="#131722" font-size="16" textLength="79.0" lengthAdjust="spacingAndGlyphs" stroke="#131722" stroke-width="0.28">PERPETUAL</text>
<text x="231.5" y="20.0" fill="#131722" font-size="16" textLength="62.6" lengthAdjust="spacingAndGlyphs" stroke="#131722" stroke-width="0.28">FUTURES</text>
<text x="298.5" y="20.0" fill="#a3a6af" font-size="16" textLength="3.5" lengthAdjust="spacingAndGlyphs" stroke="#a3a6af" stroke-width="0.28">·</text>
<text x="306.6" y="20.0" fill="#131722" font-size="16" textLength="17.4" lengthAdjust="spacingAndGlyphs" stroke="#131722" stroke-width="0.28">4Ч</text>
<text x="328.5" y="20.0" fill="#a3a6af" font-size="16" textLength="3.5" lengthAdjust="spacingAndGlyphs" stroke="#a3a6af" stroke-width="0.28">·</text>
<text x="336.4" y="20.0" fill="#131722" font-size="16" textLength="60.6" lengthAdjust="spacingAndGlyphs" stroke="#131722" stroke-width="0.28">BINANCE</text>
<text x="406.5" y="20.0" fill="#131722" font-size="13" textLength="30.5" lengthAdjust="spacingAndGlyphs" stroke="#131722" stroke-width="0.28">ОТКР</text>
<text x="439.4" y="20.0" fill="#26a69a" font-size="13" textLength="51.8" lengthAdjust="spacingAndGlyphs" stroke="#26a69a" stroke-width="0.28">33053.93</text>
<text x="497.6" y="20.0" fill="#131722" font-size="13" textLength="32.4" lengthAdjust="spacingAndGlyphs" stroke="#131722" stroke-width="0.28">МАКС</text>
<text x="531.8" y="20.0" fill="#26a69a" font-size="13" textLength="51.9" lengthAdjust="spacingAndGlyphs" stroke="#26a69a" stroke-width="0.28">33647.69</text>
<text x="590.0" y="20.0" fill="#131722" font-size="13" textLength="26.5" lengthAdjust="spacingAndGlyphs" stroke="#131722" stroke-width="0.28">МИН</text>
<text x="618.5" y="20.0" fill="#26a69a" font-size="13" textLength="51.9" lengthAdjust="spacingAndGlyphs" stroke="#26a69a" stroke-width="0.28">32457.00</text>
<text x="676.8" y="20.0" fill="#131722" font-size="13" textLength="28.8" lengthAdjust="spacingAndGlyphs" stroke="#131722" stroke-width="0.28">ЗАКР</text>
<text x="707.6" y="20.0" fill="#26a69a" font-size="13" textLength="51.9" lengthAdjust="spacingAndGlyphs" stroke="#26a69a" stroke-width="0.28">33562.22</text>
<text x="766.0" y="20.0" fill="#26a69a" font-size="13" textLength="98.5" lengthAdjust="spacingAndGlyphs" stroke="#26a69a" stroke-width="0.28">+507.69 (+1.54%)</text>
<text x="6.0" y="43.0" fill="#131722" font-size="12.5" textLength="38.7" lengthAdjust="spacingAndGlyphs" stroke="#131722" stroke-width="0.28">Объём</text>
<text x="53.5" y="43.0" fill="#26a69a" font-size="12.5" textLength="46.1" lengthAdjust="spacingAndGlyphs" stroke="#26a69a" stroke-width="0.28">46.062K</text>
<text x="6.0" y="67.0" fill="#131722" font-size="12.5" textLength="56.2" lengthAdjust="spacingAndGlyphs" stroke="#131722" stroke-width="0.28">TradingIQ</text>
<text x="66.4" y="67.0" fill="#131722" font-size="12.5" textLength="13.3" lengthAdjust="spacingAndGlyphs" stroke="#131722" stroke-width="0.28">20</text>
<text x="84.3" y="67.0" fill="#131722" font-size="12.5" textLength="16.9" lengthAdjust="spacingAndGlyphs" stroke="#131722" stroke-width="0.28">2.9</text>
<text x="106.5" y="67.0" fill="#131722" font-size="12.5" textLength="17.5" lengthAdjust="spacingAndGlyphs" stroke="#131722" stroke-width="0.28">1.8</text>
<text x="129.0" y="67.0" fill="#131722" font-size="12.5" textLength="16.9" lengthAdjust="spacingAndGlyphs" stroke="#131722" stroke-width="0.28">2.8</text>
<text x="150.7" y="67.0" fill="#131722" font-size="12.5" textLength="13.1" lengthAdjust="spacingAndGlyphs" stroke="#131722" stroke-width="0.28">20</text>
<text x="172.8" y="67.0" fill="#131722" font-size="12.5" textLength="21.0" lengthAdjust="spacingAndGlyphs" stroke="#131722" stroke-width="0.28">н/д</text>
<text x="200.5" y="67.0" fill="#131722" font-size="12.5" textLength="20.4" lengthAdjust="spacingAndGlyphs" stroke="#131722" stroke-width="0.28">н/д</text>
<text x="227.6" y="67.0" fill="#46a84f" font-size="12.5" textLength="51.5" lengthAdjust="spacingAndGlyphs" stroke="#46a84f" stroke-width="0.28">31643.82</text>
<rect x="6.5" y="76.5" width="28" height="20" rx="2.5" fill="#fff" stroke="#cdd0de" stroke-width="1.1"/>
<path d="M16.4 88.4l4.2-3.9 4.2 3.9" fill="none" stroke="#131722" stroke-width="1.4"/>
<circle cx="1306" cy="321" r="29" fill="#000" opacity="0.14" filter="url(#sh)"/><circle cx="1306.1" cy="319.2" r="25" fill="#32353e"/><path d="M1301.6 311.9v14.8l11.8-7.4z" fill="#3392ed" stroke="#3392ed" stroke-width="1.8" stroke-linejoin="round"/>
</svg>
</body></html>
